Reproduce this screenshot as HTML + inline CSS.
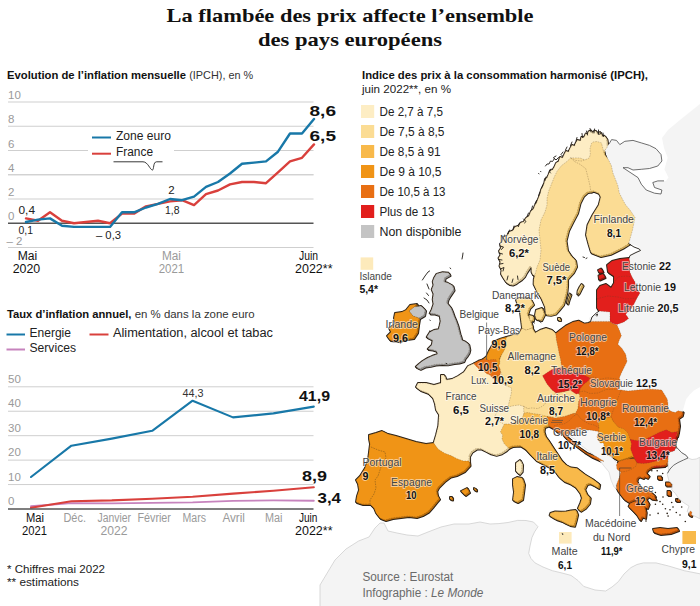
<!DOCTYPE html>
<html lang="fr"><head><meta charset="utf-8"><title>La flambée des prix affecte l’ensemble des pays européens</title>
<style>html,body{margin:0;padding:0;background:#fff}svg{display:block}</style></head>
<body><svg width="700" height="606" viewBox="0 0 700 606" font-family="'Liberation Sans', sans-serif">
<rect width="700" height="606" fill="#fff"/>
<g id="map" stroke-linejoin="round">
<g fill="none" stroke="#2a2016" stroke-width="1.9">
<polygon points="608.1,145.1 608.1,144.0 607.5,139.7 605.4,136.8 603.1,137.6 601.1,133.1 598.6,135.6 597.1,132.1 595.4,131.8 593.6,134.6 592.1,131.6 589.7,132.5 588.6,135.6 586.8,134.7 585.1,138.6 582.5,138.1 581.6,142.1 578.6,141.1 576.8,144.0 575.6,147.1 573.1,146.1 571.1,149.7 569.6,153.1 567.1,152.1 565.4,155.4 563.6,159.1 561.1,158.1 559.7,162.5 557.1,164.1 555.4,168.1 553.6,171.1 551.1,171.6 549.7,175.4 548.1,179.1 546.1,180.1 545.4,184.0 543.6,188.1 542.1,191.1 541.1,195.4 539.1,200.1 537.6,204.1 536.1,206.1 534.6,210.1 532.1,212.1 530.1,217.1 527.1,219.1 524.6,223.1 522.1,223.6 519.1,227.1 516.1,228.1 514.1,231.6 510.1,233.1 508.1,237.1 504.6,238.1 503.1,243.1 501.1,245.1 502.1,249.1 500.1,252.1 501.6,256.1 499.6,259.1 501.6,263.1 500.6,267.1 502.6,271.1 502.1,275.1 504.1,278.6 507.1,283.1 510.1,285.1 513.1,285.6 516.6,284.1 519.1,282.1 522.1,280.1 525.1,277.1 527.1,273.1 529.1,270.1 531.1,267.1 532.6,268.6 532.6,273.1 534.1,276.1 536.1,276.1 547.1,263.1 551.1,231.1 557.1,201.1 567.1,179.1 583.1,171.1 597.1,159.1 608.1,149.1"/><polygon points="607.0,144.0 607.0,142.9 606.4,138.6 604.3,135.7 602.0,136.5 600.0,132.0 597.5,134.5 596.0,131.0 594.3,130.7 592.5,133.5 591.0,130.5 588.6,131.4 587.5,134.5 585.7,133.6 584.0,137.5 581.4,137.0 580.5,141.0 577.5,140.0 575.7,142.9 574.5,146.0 572.0,145.0 570.0,148.6 568.5,152.0 566.0,151.0 564.3,154.3 562.5,158.0 560.0,157.0 558.6,161.4 556.0,163.0 554.3,167.0 552.5,170.0 550.0,170.5 548.6,174.3 547.0,178.0 545.0,179.0 544.3,182.9 542.5,187.0 541.0,190.0 540.0,194.3 538.0,199.0 536.5,203.0 535.0,205.0 533.5,209.0 531.0,211.0 529.0,216.0 526.0,218.0 523.5,222.0 521.0,222.5 518.0,226.0 515.0,227.0 513.0,230.5 509.0,232.0 507.0,236.0 503.5,237.0 502.0,242.0 500.0,244.0 501.0,248.0 499.0,251.0 500.5,255.0 498.5,258.0 500.5,262.0 499.5,266.0 501.5,270.0 501.0,274.0 503.0,277.5 506.0,282.0 509.0,284.0 512.0,284.5 515.5,283.0 518.0,281.0 521.0,279.0 524.0,276.0 526.0,272.0 528.0,269.0 530.0,266.0 531.5,267.5 531.5,272.0 533.0,275.0 535.0,275.0 546.0,262.0 550.0,230.0 556.0,200.0 566.0,178.0 582.0,170.0 596.0,158.0 607.0,148.0"/>
<polygon points="571.8,159.0 568.1,162.5 562.5,166.8 558.1,172.5 555.4,178.1 552.5,185.4 549.7,192.5 548.1,199.7 548.1,206.1 546.1,213.1 542.1,221.1 540.1,231.1 541.1,241.1 542.1,251.1 541.1,261.1 538.1,268.1 536.1,276.1 534.9,280.1 534.7,285.4 538.1,292.5 542.5,299.7 546.1,308.1 546.8,315.4 551.1,315.9 556.1,314.7 560.1,310.1 564.0,305.4 566.1,298.1 567.5,292.5 568.1,286.1 568.1,279.7 574.1,273.1 577.1,267.1 576.1,261.1 572.1,257.1 568.1,251.1 566.6,241.1 569.1,231.1 573.1,223.1 578.1,213.6 580.6,203.6 584.0,196.8 588.1,193.1 591.8,192.5 599.1,181.1 591.1,163.1 581.1,159.1"/><polygon points="570.7,157.9 567.0,161.4 561.4,165.7 557.0,171.4 554.3,177.0 551.4,184.3 548.6,191.4 547.0,198.6 547.0,205.0 545.0,212.0 541.0,220.0 539.0,230.0 540.0,240.0 541.0,250.0 540.0,260.0 537.0,267.0 535.0,275.0 533.8,279.0 533.6,284.3 537.0,291.4 541.4,298.6 545.0,307.0 545.7,314.3 550.0,314.8 555.0,313.6 559.0,309.0 562.9,304.3 565.0,297.0 566.4,291.4 567.0,285.0 567.0,278.6 573.0,272.0 576.0,266.0 575.0,260.0 571.0,256.0 567.0,250.0 565.5,240.0 568.0,230.0 572.0,222.0 577.0,212.5 579.5,202.5 582.9,195.7 587.0,192.0 590.7,191.4 598.0,180.0 590.0,162.0 580.0,158.0"/>
<polygon points="571.8,159.0 576.8,161.5 582.5,162.1 586.8,160.7 590.4,159.0 591.4,155.4 591.1,149.7 592.5,144.7 594.0,143.1 598.1,142.6 602.5,144.0 604.0,149.7 605.4,155.4 609.7,161.1 612.5,166.8 614.0,174.0 616.8,181.1 619.0,186.8 620.4,194.0 624.0,201.1 626.8,206.1 631.1,211.1 636.1,218.6 633.6,231.1 629.8,244.8 623.6,248.6 611.1,254.8 601.1,257.1 592.1,253.6 589.8,246.1 587.1,236.1 588.6,226.1 593.6,216.1 599.8,206.1 601.8,198.1 599.7,194.0 594.0,191.8 591.8,192.5 591.1,186.8 589.0,178.1 586.8,169.7 581.1,165.4 575.4,162.5"/><polygon points="570.7,157.9 575.7,160.4 581.4,161.0 585.7,159.6 589.3,157.9 590.3,154.3 590.0,148.6 591.4,143.6 592.9,142.0 597.0,141.5 601.4,142.9 602.9,148.6 604.3,154.3 608.6,160.0 611.4,165.7 612.9,172.9 615.7,180.0 617.9,185.7 619.3,192.9 622.9,200.0 625.7,205.0 630.0,210.0 635.0,217.5 632.5,230.0 628.7,243.7 622.5,247.5 610.0,253.7 600.0,256.0 591.0,252.5 588.7,245.0 586.0,235.0 587.5,225.0 592.5,215.0 598.7,205.0 600.7,197.0 598.6,192.9 592.9,190.7 590.7,191.4 590.0,185.7 587.9,177.0 585.7,168.6 580.0,164.3 574.3,161.4"/>
<polygon points="582.6,285.1 583.7,286.1 581.6,290.1 579.9,293.6 578.4,295.4 578.7,292.1 580.6,288.1"/><polygon points="581.5,284.0 582.6,285.0 580.5,289.0 578.8,292.5 577.3,294.3 577.6,291.0 579.5,287.0"/>
<polygon points="570.7,294.7 571.5,295.1 569.7,300.1 568.5,304.6 567.9,304.4 569.1,299.1"/><polygon points="569.6,293.6 570.4,294.0 568.6,299.0 567.4,303.5 566.8,303.3 568.0,298.0"/>
<polygon points="437.7,274.9 435.1,279.1 433.8,282.8 434.6,286.1 432.8,290.7 434.6,295.1 433.8,300.6 434.6,305.1 432.8,310.5 430.8,314.5 435.1,314.6 440.7,316.4 441.7,322.4 440.6,327.1 439.7,330.3 435.1,331.1 430.8,333.3 427.8,338.2 433.8,341.2 432.8,346.1 428.8,350.1 433.1,350.6 437.7,352.1 438.7,355.1 433.1,357.1 428.8,359.0 423.6,362.1 419.9,365.0 416.9,367.9 420.9,369.9 425.6,367.6 430.8,366.9 436.1,365.6 442.7,365.0 448.1,365.4 454.6,364.0 459.6,363.6 464.5,362.0 465.6,359.1 467.4,357.0 469.6,353.6 470.4,350.1 469.4,345.2 466.1,342.6 462.5,341.2 461.6,337.6 460.5,334.3 458.5,326.3 456.6,321.1 454.6,316.4 453.1,312.1 451.6,308.5 449.1,305.6 447.6,303.6 448.6,300.1 450.6,296.6 454.6,290.7 453.6,286.7 448.6,283.8 444.7,282.8 445.7,278.8 450.6,275.9 449.6,273.9 443.7,273.3"/><polygon points="436.6,273.8 434.0,278.0 432.7,281.7 433.5,285.0 431.7,289.6 433.5,294.0 432.7,299.5 433.5,304.0 431.7,309.4 429.7,313.4 434.0,313.5 439.6,315.3 440.6,321.3 439.5,326.0 438.6,329.2 434.0,330.0 429.7,332.2 426.7,337.1 432.7,340.1 431.7,345.0 427.7,349.0 432.0,349.5 436.6,351.0 437.6,354.0 432.0,356.0 427.7,357.9 422.5,361.0 418.8,363.9 415.8,366.8 419.8,368.8 424.5,366.5 429.7,365.8 435.0,364.5 441.6,363.9 447.0,364.3 453.5,362.9 458.5,362.5 463.4,360.9 464.5,358.0 466.3,355.9 468.5,352.5 469.3,349.0 468.3,344.1 465.0,341.5 461.4,340.1 460.5,336.5 459.4,333.2 457.4,325.2 455.5,320.0 453.5,315.3 452.0,311.0 450.5,307.4 448.0,304.5 446.5,302.5 447.5,299.0 449.5,295.5 453.5,289.6 452.5,285.6 447.5,282.7 443.6,281.7 444.6,277.7 449.5,274.8 448.5,272.8 442.6,272.2"/>
<polygon points="410.1,312.1 415.1,308.1 422.1,307.1 426.1,311.1 425.1,316.1 420.1,319.1 414.1,317.1"/><polygon points="409.0,311.0 414.0,307.0 421.0,306.0 425.0,310.0 424.0,315.0 419.0,318.0 413.0,316.0"/>
<polygon points="407.1,311.1 411.1,306.1 418.1,305.1 415.1,308.1 410.1,312.1 414.1,317.1 420.1,319.1 419.1,325.1 418.1,333.1 414.1,339.1 407.1,340.1 399.1,342.1 391.1,341.1 388.1,337.1 392.1,333.1 390.1,329.1 396.1,325.1 395.1,319.1 396.1,314.1 403.1,313.1"/><polygon points="406.0,310.0 410.0,305.0 417.0,304.0 414.0,307.0 409.0,311.0 413.0,316.0 419.0,318.0 418.0,324.0 417.0,332.0 413.0,338.0 406.0,339.0 398.0,341.0 390.0,340.0 387.0,336.0 391.0,332.0 389.0,328.0 395.0,324.0 394.0,318.0 395.0,313.0 402.0,312.0"/>
<polygon points="507.5,338.1 511.1,337.1 515.1,335.6 519.1,336.1 521.1,333.1 523.1,329.1 527.1,331.1 533.1,329.1 536.1,334.1 541.1,331.1 547.1,329.1 553.1,331.1 556.8,334.7 563.1,339.1 569.1,373.1 563.1,397.1 557.1,403.1 549.1,407.1 539.1,413.1 523.1,413.1 511.1,412.1 505.1,403.1 506.1,393.1 499.1,387.1 497.1,375.1 499.1,365.1 502.1,357.1 504.1,348.1 505.1,341.1"/><polygon points="506.4,337.0 510.0,336.0 514.0,334.5 518.0,335.0 520.0,332.0 522.0,328.0 526.0,330.0 532.0,328.0 535.0,333.0 540.0,330.0 546.0,328.0 552.0,330.0 555.7,333.6 562.0,338.0 568.0,372.0 562.0,396.0 556.0,402.0 548.0,406.0 538.0,412.0 522.0,412.0 510.0,411.0 504.0,402.0 505.0,392.0 498.0,386.0 496.0,374.0 498.0,364.0 501.0,356.0 503.0,347.0 504.0,340.0"/>
<polygon points="474.7,364.7 469.1,367.1 465.1,373.1 459.1,377.1 453.1,380.1 447.1,381.1 445.1,376.1 442.1,376.1 442.1,384.1 435.1,386.1 427.1,384.1 419.1,384.1 417.1,388.1 421.1,391.1 429.1,394.1 434.1,399.1 436.1,405.1 437.1,411.1 440.1,415.8 439.4,426.8 437.1,436.1 434.7,444.1 441.1,457.1 456.1,465.1 470.1,462.1 470.1,456.7 472.4,452.7 477.1,449.6 481.8,449.6 486.5,452.0 491.1,454.3 496.7,455.9 502.1,454.3 507.0,451.1 509.3,448.8 513.1,441.1 513.1,426.1 519.1,416.1 517.1,409.1 509.0,408.1 509.7,405.4 511.1,399.7 512.5,394.0 512.5,389.0 509.0,387.5 501.8,384.0 504.1,379.1 501.1,371.1 493.1,367.1 483.1,362.1"/><polygon points="473.6,363.6 468.0,366.0 464.0,372.0 458.0,376.0 452.0,379.0 446.0,380.0 444.0,375.0 441.0,375.0 441.0,383.0 434.0,385.0 426.0,383.0 418.0,383.0 416.0,387.0 420.0,390.0 428.0,393.0 433.0,398.0 435.0,404.0 436.0,410.0 439.0,414.7 438.3,425.7 436.0,435.0 433.6,443.0 440.0,456.0 455.0,464.0 469.0,461.0 469.0,455.6 471.3,451.6 476.0,448.5 480.7,448.5 485.4,450.9 490.0,453.2 495.6,454.8 501.0,453.2 505.9,450.0 508.2,447.7 512.0,440.0 512.0,425.0 518.0,415.0 516.0,408.0 507.9,407.0 508.6,404.3 510.0,398.6 511.4,392.9 511.4,387.9 507.9,386.4 500.7,382.9 503.0,378.0 500.0,370.0 492.0,366.0 482.0,361.0"/>
<polygon points="517.1,464.1 521.1,461.1 523.1,465.1 522.7,472.1 520.1,475.1 517.1,472.1"/><polygon points="516.0,463.0 520.0,460.0 522.0,464.0 521.6,471.0 519.0,474.0 516.0,471.0"/>
<polygon points="370.1,436.1 377.1,434.1 383.1,432.1 389.1,435.1 397.1,437.1 407.1,440.1 417.1,443.1 427.1,445.1 434.7,444.1 439.4,450.4 445.7,454.3 452.0,456.7 458.1,459.8 464.5,462.1 470.1,462.1 470.6,466.1 465.1,472.1 457.1,476.1 451.1,477.6 445.1,482.1 439.1,488.1 437.3,491.6 438.1,496.1 440.1,499.6 437.1,503.1 433.1,508.1 429.1,512.6 423.1,516.1 417.1,518.1 409.1,517.1 401.1,518.1 393.1,519.1 386.1,521.1 381.1,519.1 377.1,514.1 375.1,509.1 371.1,505.1 363.1,505.1 357.1,503.1 358.1,497.1 360.1,491.1 359.1,485.1 357.1,481.1 361.1,477.1 366.1,469.1 369.1,461.1 370.1,453.1 371.1,445.1 370.1,440.1"/><polygon points="369.0,435.0 376.0,433.0 382.0,431.0 388.0,434.0 396.0,436.0 406.0,439.0 416.0,442.0 426.0,444.0 433.6,443.0 438.3,449.3 444.6,453.2 450.9,455.6 457.0,458.7 463.4,461.0 469.0,461.0 469.5,465.0 464.0,471.0 456.0,475.0 450.0,476.5 444.0,481.0 438.0,487.0 436.2,490.5 437.0,495.0 439.0,498.5 436.0,502.0 432.0,507.0 428.0,511.5 422.0,515.0 416.0,517.0 408.0,516.0 400.0,517.0 392.0,518.0 385.0,520.0 380.0,518.0 376.0,513.0 374.0,508.0 370.0,504.0 362.0,504.0 356.0,502.0 357.0,496.0 359.0,490.0 358.0,484.0 356.0,480.0 360.0,476.0 365.0,468.0 368.0,460.0 369.0,452.0 370.0,444.0 369.0,439.0"/>
<polygon points="462.1,492.1 468.1,489.1 470.1,493.1 466.1,496.1"/><polygon points="461.0,491.0 467.0,488.0 469.0,492.0 465.0,495.0"/>
<polygon points="475.1,489.1 477.1,490.1 477.1,491.6 475.1,490.6"/><polygon points="474.0,488.0 476.0,489.0 476.0,490.5 474.0,489.5"/>
<polygon points="451.1,498.1 453.1,498.1 453.1,500.6 451.1,500.1"/><polygon points="450.0,497.0 452.0,497.0 452.0,499.5 450.0,499.0"/>
<polygon points="517.1,301.1 520.1,299.1 525.1,299.6 530.1,299.1 532.1,301.1 534.1,305.1 530.1,309.1 528.1,315.1 531.1,321.1 533.1,327.1 533.1,329.1 527.1,331.1 523.1,329.1 522.1,321.1 521.1,313.1 519.1,307.1"/><polygon points="516.0,300.0 519.0,298.0 524.0,298.5 529.0,298.0 531.0,300.0 533.0,304.0 529.0,308.0 527.0,314.0 530.0,320.0 532.0,326.0 532.0,328.0 526.0,330.0 522.0,328.0 521.0,320.0 520.0,312.0 518.0,306.0"/>
<polygon points="537.1,311.1 543.1,309.1 545.1,315.1 542.1,321.1 537.1,320.1 536.1,316.1"/><polygon points="536.0,310.0 542.0,308.0 544.0,314.0 541.0,320.0 536.0,319.0 535.0,315.0"/>
<polygon points="530.1,316.1 534.1,317.1 534.1,321.1 531.1,322.1"/><polygon points="529.0,315.0 533.0,316.0 533.0,320.0 530.0,321.0"/>
<polygon points="559.1,319.1 561.1,319.1 561.1,321.1 559.1,321.1"/><polygon points="558.0,318.0 560.0,318.0 560.0,320.0 558.0,320.0"/>
<polygon points="484.0,360.4 487.5,357.5 489.7,352.5 492.5,347.5 496.8,341.8 501.8,339.7 507.5,338.1 506.8,342.5 507.5,346.8 504.7,352.5 502.5,356.1 500.4,359.7 501.1,364.0 499.7,367.1 497.1,367.1 491.1,365.1 486.1,363.1"/><polygon points="482.9,359.3 486.4,356.4 488.6,351.4 491.4,346.4 495.7,340.7 500.7,338.6 506.4,337.0 505.7,341.4 506.4,345.7 503.6,351.4 501.4,355.0 499.3,358.6 500.0,362.9 498.6,366.0 496.0,366.0 490.0,364.0 485.0,362.0"/>
<polygon points="474.7,364.7 479.7,361.8 484.0,360.4 487.5,359.7 489.7,361.4 493.1,360.7 496.8,360.7 498.1,363.5 499.7,367.1 501.1,369.7 501.8,374.0 500.4,377.5 501.1,381.1 496.8,380.4 494.0,379.7 491.1,376.1 487.5,374.7 484.7,371.8 480.4,370.4 477.5,367.5"/><polygon points="473.6,363.6 478.6,360.7 482.9,359.3 486.4,358.6 488.6,360.3 492.0,359.6 495.7,359.6 497.0,362.4 498.6,366.0 500.0,368.6 500.7,372.9 499.3,376.4 500.0,380.0 495.7,379.3 492.9,378.6 490.0,375.0 486.4,373.6 483.6,370.7 479.3,369.3 476.4,366.4"/>
<polygon points="498.1,376.8 501.1,377.5 501.8,381.1 499.7,384.0 497.5,381.8"/><polygon points="497.0,375.7 500.0,376.4 500.7,380.0 498.6,382.9 496.4,380.7"/>
<polygon points="495.1,419.1 498.1,413.1 503.1,410.1 509.0,408.1 514.7,406.8 520.4,406.1 524.7,407.5 531.1,411.1 531.1,421.1 521.1,425.1 509.1,427.1 501.1,423.1"/><polygon points="494.0,418.0 497.0,412.0 502.0,409.0 507.9,407.0 513.6,405.7 519.3,405.0 523.6,406.4 530.0,410.0 530.0,420.0 520.0,424.0 508.0,426.0 500.0,422.0"/>
<polygon points="524.7,407.5 529.0,409.7 533.1,409.0 539.0,409.7 543.1,407.5 546.1,405.4 546.8,402.5 550.4,401.1 554.7,396.1 557.1,394.1 563.1,393.1 571.1,391.1 577.1,390.1 585.1,393.1 585.1,406.1 581.1,417.1 573.1,423.1 557.1,423.1 541.1,421.1 525.1,417.1"/><polygon points="523.6,406.4 527.9,408.6 532.0,407.9 537.9,408.6 542.0,406.4 545.0,404.3 545.7,401.4 549.3,400.0 553.6,395.0 556.0,393.0 562.0,392.0 570.0,390.0 576.0,389.0 584.0,392.0 584.0,405.0 580.0,416.0 572.0,422.0 556.0,422.0 540.0,420.0 524.0,416.0"/>
<polygon points="509.3,448.8 505.4,444.9 503.1,440.1 503.8,436.1 501.5,433.1 503.8,428.4 505.4,425.1 509.1,425.1 513.1,425.1 517.1,422.1 521.1,420.1 524.1,417.6 525.1,414.1 529.1,413.6 533.1,414.6 539.7,415.4 548.1,417.5 553.1,418.6 557.1,422.1 555.1,427.1 549.1,426.6 545.1,428.1 544.6,432.1 546.1,437.1 549.1,441.1 554.7,449.7 558.6,455.6 562.5,461.5 567.1,466.1 572.0,468.6 578.1,469.4 582.1,472.6 586.1,475.7 594.0,480.4 600.2,485.1 599.5,489.1 595.5,486.7 590.8,484.3 587.7,485.1 585.3,489.8 587.7,495.3 590.8,498.5 590.0,504.0 586.1,508.7 581.4,511.8 579.0,509.5 581.4,504.0 583.0,499.2 581.4,494.5 576.7,488.2 570.4,484.3 564.9,482.0 560.2,478.0 556.2,472.5 550.0,467.8 543.7,464.7 537.4,461.5 531.1,455.1 526.6,450.1 521.1,446.6 513.1,447.1"/><polygon points="508.2,447.7 504.3,443.8 502.0,439.0 502.7,435.0 500.4,432.0 502.7,427.3 504.3,424.0 508.0,424.0 512.0,424.0 516.0,421.0 520.0,419.0 523.0,416.5 524.0,413.0 528.0,412.5 532.0,413.5 538.6,414.3 547.0,416.4 552.0,417.5 556.0,421.0 554.0,426.0 548.0,425.5 544.0,427.0 543.5,431.0 545.0,436.0 548.0,440.0 553.6,448.6 557.5,454.5 561.4,460.4 566.0,465.0 570.9,467.5 577.0,468.3 581.0,471.5 585.0,474.6 592.9,479.3 599.1,484.0 598.4,488.0 594.4,485.6 589.7,483.2 586.6,484.0 584.2,488.7 586.6,494.2 589.7,497.4 588.9,502.9 585.0,507.6 580.3,510.7 577.9,508.4 580.3,502.9 581.9,498.1 580.3,493.4 575.6,487.1 569.3,483.2 563.8,480.9 559.1,476.9 555.1,471.4 548.9,466.7 542.6,463.6 536.3,460.4 530.0,454.0 525.5,449.0 520.0,445.5 512.0,446.0"/>
<polygon points="551.5,514.1 556.2,512.6 562.1,512.9 567.2,512.6 572.1,511.6 576.7,511.1 578.2,515.0 576.7,521.2 575.1,526.7 570.4,526.0 566.1,523.9 562.5,522.0 558.1,520.6 554.7,518.9 550.7,516.5"/><polygon points="550.4,513.0 555.1,511.5 561.0,511.8 566.1,511.5 571.0,510.5 575.6,510.0 577.1,513.9 575.6,520.1 574.0,525.6 569.3,524.9 565.0,522.8 561.4,520.9 557.0,519.5 553.6,517.8 549.6,515.4"/>
<polygon points="514.1,480.1 518.1,478.1 523.1,479.1 525.1,485.1 524.1,493.1 523.1,500.1 518.1,503.1 514.1,501.1 515.1,493.1 514.1,486.1"/><polygon points="513.0,479.0 517.0,477.0 522.0,478.0 524.0,484.0 523.0,492.0 522.0,499.0 517.0,502.0 513.0,500.0 514.0,492.0 513.0,485.0"/>
<polygon points="556.8,334.7 561.1,331.1 566.8,326.8 574.0,323.1 579.7,321.8 585.4,324.7 589.7,324.0 592.5,322.5 601.1,322.5 611.1,322.5 614.0,324.7 618.1,326.1 620.4,331.1 622.5,336.8 620.4,341.1 619.0,345.4 623.1,349.7 626.8,355.4 628.1,362.5 625.4,368.1 622.5,374.0 620.4,379.0 621.1,381.1 616.1,387.1 591.1,387.1 561.1,377.1 562.5,366.8 561.8,361.1 560.4,355.4 559.0,348.1 557.5,341.1"/><polygon points="555.7,333.6 560.0,330.0 565.7,325.7 572.9,322.0 578.6,320.7 584.3,323.6 588.6,322.9 591.4,321.4 600.0,321.4 610.0,321.4 612.9,323.6 617.0,325.0 619.3,330.0 621.4,335.7 619.3,340.0 617.9,344.3 622.0,348.6 625.7,354.3 627.0,361.4 624.3,367.0 621.4,372.9 619.3,377.9 620.0,380.0 615.0,386.0 590.0,386.0 560.0,376.0 561.4,365.7 560.7,360.0 559.3,354.3 557.9,347.0 556.4,340.0"/>
<polygon points="543.6,376.9 549.1,373.1 553.1,370.7 557.1,369.3 561.1,368.7 567.1,371.1 573.1,374.1 579.1,373.1 585.1,376.1 591.1,379.1 595.1,383.1 593.1,393.1 577.1,395.1 571.1,391.1 563.1,393.1 557.1,394.1 553.1,391.1 548.1,385.1"/><polygon points="542.5,375.8 548.0,372.0 552.0,369.6 556.0,368.2 560.0,367.6 566.0,370.0 572.0,373.0 578.0,372.0 584.0,375.0 590.0,378.0 594.0,382.0 592.0,392.0 576.0,394.0 570.0,390.0 562.0,392.0 556.0,393.0 552.0,390.0 547.0,384.0"/>
<polygon points="591.1,379.1 595.4,378.1 601.1,380.4 608.1,379.0 615.4,379.7 621.1,381.1 621.6,386.1 619.1,391.1 613.1,397.1 597.1,399.1 585.1,396.1 580.1,393.1 581.6,389.1 585.1,385.1 589.1,382.1"/><polygon points="590.0,378.0 594.3,377.0 600.0,379.3 607.0,377.9 614.3,378.6 620.0,380.0 620.5,385.0 618.0,390.0 612.0,396.0 596.0,398.0 584.0,395.0 579.0,392.0 580.5,388.0 584.0,384.0 588.0,381.0"/>
<polygon points="580.1,393.1 585.1,392.1 591.1,394.6 599.1,394.1 607.1,390.6 615.1,390.1 622.1,391.1 627.1,397.1 623.1,421.1 607.1,429.1 587.1,429.1 573.1,425.1 575.1,417.1 579.0,409.7 579.7,402.5 581.1,399.7"/><polygon points="579.0,392.0 584.0,391.0 590.0,393.5 598.0,393.0 606.0,389.5 614.0,389.0 621.0,390.0 626.0,396.0 622.0,420.0 606.0,428.0 586.0,428.0 572.0,424.0 574.0,416.0 577.9,408.6 578.6,401.4 580.0,398.6"/>
<polygon points="622.1,391.1 629.1,392.1 639.1,391.1 649.1,390.1 657.1,390.6 662.8,391.1 665.6,395.6 668.3,400.1 669.1,405.1 669.1,410.1 672.6,412.6 676.4,413.7 679.1,411.9 683.7,412.8 682.8,416.4 679.1,419.1 680.1,426.4 679.1,432.7 678.1,437.1 665.1,441.1 641.1,445.1 627.1,441.1 619.1,433.1 614.1,422.1 612.1,417.6 615.1,409.1 619.1,399.1"/><polygon points="621.0,390.0 628.0,391.0 638.0,390.0 648.0,389.0 656.0,389.5 661.7,390.0 664.5,394.5 667.2,399.0 668.0,404.0 668.0,409.0 671.5,411.5 675.3,412.6 678.0,410.8 682.6,411.7 681.7,415.3 678.0,418.0 679.0,425.3 678.0,431.6 677.0,436.0 664.0,440.0 640.0,444.0 626.0,440.0 618.0,432.0 613.0,421.0 611.0,416.5 614.0,408.0 618.0,398.0"/>
<polygon points="548.1,417.5 556.8,419.0 565.4,417.5 574.0,414.7 576.1,414.1 575.1,419.1 573.1,425.1 567.1,431.1 557.1,431.1 550.1,427.1 548.1,422.1"/><polygon points="547.0,416.4 555.7,417.9 564.3,416.4 572.9,413.6 575.0,413.0 574.0,418.0 572.0,424.0 566.0,430.0 556.0,430.0 549.0,426.0 547.0,421.0"/>
<polygon points="555.1,427.1 559.1,425.6 565.1,425.1 570.1,422.1 574.1,417.6 578.1,415.1 582.1,420.1 589.1,424.6 595.1,426.1 600.1,428.6 605.1,433.1 599.7,432.5 591.1,431.1 578.1,430.4 571.1,431.6 566.8,436.8 572.1,441.1 579.7,448.1 588.1,454.0 598.1,458.1 605.4,462.5 601.1,461.6 593.1,458.1 585.1,453.1 577.1,447.1 570.1,442.1 565.1,437.1 562.1,432.1 559.1,433.6 556.1,431.1"/><polygon points="554.0,426.0 558.0,424.5 564.0,424.0 569.0,421.0 573.0,416.5 577.0,414.0 581.0,419.0 588.0,423.5 594.0,425.0 599.0,427.5 604.0,432.0 598.6,431.4 590.0,430.0 577.0,429.3 570.0,430.5 565.7,435.7 571.0,440.0 578.6,447.0 587.0,452.9 597.0,457.0 604.3,461.4 600.0,460.5 592.0,457.0 584.0,452.0 576.0,446.0 569.0,441.0 564.0,436.0 561.0,431.0 558.0,432.5 555.0,430.0"/>
<polygon points="599.7,432.5 600.1,428.6 599.1,423.1 603.1,420.1 612.1,418.1 614.1,422.1 619.1,428.1 625.1,430.1 629.1,434.1 631.1,440.4 639.1,447.1 639.1,459.1 632.5,457.5 626.8,459.7 619.7,461.8 612.5,457.5 608.1,456.1 605.4,450.4 604.7,444.0 601.1,444.0 598.1,438.1"/><polygon points="598.6,431.4 599.0,427.5 598.0,422.0 602.0,419.0 611.0,417.0 613.0,421.0 618.0,427.0 624.0,429.0 628.0,433.0 630.0,439.3 638.0,446.0 638.0,458.0 631.4,456.4 625.7,458.6 618.6,460.7 611.4,456.4 607.0,455.0 604.3,449.3 603.6,442.9 600.0,442.9 597.0,437.0"/>
<polygon points="631.1,440.4 638.4,441.8 645.6,440.9 652.9,437.3 660.1,433.6 667.4,430.9 672.8,433.6 679.1,432.7 678.3,433.6 676.4,440.9 675.5,446.3 676.8,449.0 675.4,451.8 671.1,453.1 668.1,456.1 669.0,459.0 665.1,467.1 641.1,469.1 635.4,459.7 634.0,456.1 631.8,450.4 632.5,444.7"/><polygon points="630.0,439.3 637.3,440.7 644.5,439.8 651.8,436.2 659.0,432.5 666.3,429.8 671.7,432.5 678.0,431.6 677.2,432.5 675.3,439.8 674.4,445.2 675.7,447.9 674.3,450.7 670.0,452.0 667.0,455.0 667.9,457.9 664.0,466.0 640.0,468.0 634.3,458.6 632.9,455.0 630.7,449.3 631.4,443.6"/>
<polygon points="617.5,466.1 619.7,462.5 626.8,460.4 634.0,459.7 635.4,459.7 638.1,464.0 641.1,471.1 631.1,477.1 621.8,473.1 618.1,470.4"/><polygon points="616.4,465.0 618.6,461.4 625.7,459.3 632.9,458.6 634.3,458.6 637.0,462.9 640.0,470.0 630.0,476.0 620.7,472.0 617.0,469.3"/>
<polygon points="621.8,473.1 626.8,472.5 632.5,470.4 636.8,467.5 638.1,464.0 644.0,464.7 649.7,464.0 655.4,462.5 661.1,461.1 665.4,460.4 669.0,459.0 669.0,462.5 666.8,466.1 662.5,466.8 656.8,466.8 652.5,468.1 648.1,471.1 646.8,474.0 649.7,476.8 648.1,479.0 645.4,477.5 644.0,479.0 640.4,477.5 638.1,479.0 637.5,481.8 639.7,486.1 644.0,490.4 648.1,493.1 654.0,496.1 656.8,500.4 652.5,499.7 649.7,497.5 646.8,499.7 649.7,504.7 648.1,509.0 645.4,507.5 646.8,513.1 646.1,519.0 643.1,517.5 641.1,521.1 638.1,516.1 634.0,511.8 629.7,507.5 631.1,504.7 635.4,502.5 641.1,501.8 635.1,500.6 629.7,503.1 625.4,500.4 623.1,497.5 619.7,493.1 617.5,489.0 618.1,484.7 619.7,480.4 621.1,476.1"/><polygon points="620.7,472.0 625.7,471.4 631.4,469.3 635.7,466.4 637.0,462.9 642.9,463.6 648.6,462.9 654.3,461.4 660.0,460.0 664.3,459.3 667.9,457.9 667.9,461.4 665.7,465.0 661.4,465.7 655.7,465.7 651.4,467.0 647.0,470.0 645.7,472.9 648.6,475.7 647.0,477.9 644.3,476.4 642.9,477.9 639.3,476.4 637.0,477.9 636.4,480.7 638.6,485.0 642.9,489.3 647.0,492.0 652.9,495.0 655.7,499.3 651.4,498.6 648.6,496.4 645.7,498.6 648.6,503.6 647.0,507.9 644.3,506.4 645.7,512.0 645.0,517.9 642.0,516.4 640.0,520.0 637.0,515.0 632.9,510.7 628.6,506.4 630.0,503.6 634.3,501.4 640.0,500.7 634.0,499.5 628.6,502.0 624.3,499.3 622.0,496.4 618.6,492.0 616.4,487.9 617.0,483.6 618.6,479.3 620.0,475.0"/>
<polygon points="654.1,530.1 661.1,529.1 669.1,530.1 678.1,529.1 679.1,531.1 671.1,534.1 661.1,535.1 655.1,533.1"/><polygon points="653.0,529.0 660.0,528.0 668.0,529.0 677.0,528.0 678.0,530.0 670.0,533.0 660.0,534.0 654.0,532.0"/>
<polygon points="647.1,491.1 652.1,493.6 656.1,497.1 654.1,498.1 649.1,495.1"/><polygon points="646.0,490.0 651.0,492.5 655.0,496.0 653.0,497.0 648.0,494.0"/>
<polygon points="659.1,477.6 662.1,477.6 662.1,480.1 659.1,480.1"/><polygon points="658.0,476.5 661.0,476.5 661.0,479.0 658.0,479.0"/>
<polygon points="667.1,483.6 671.6,483.6 672.1,486.6 667.1,486.6"/><polygon points="666.0,482.5 670.5,482.5 671.0,485.5 666.0,485.5"/>
<polygon points="668.6,492.1 671.1,492.1 671.1,496.1 668.6,496.1"/><polygon points="667.5,491.0 670.0,491.0 670.0,495.0 667.5,495.0"/>
<polygon points="677.1,500.1 680.1,500.1 680.1,502.1 677.1,502.1"/><polygon points="676.0,499.0 679.0,499.0 679.0,501.0 676.0,501.0"/>
<polygon points="691.1,512.1 693.1,513.1 692.1,517.1 690.1,516.1"/><polygon points="690.0,511.0 692.0,512.0 691.0,516.0 689.0,515.0"/>
<polygon points="608.1,266.1 613.1,262.1 621.1,260.1 630.1,259.1 631.1,265.1 630.1,271.1 633.1,278.1 631.1,285.1 617.1,287.1 615.1,284.1 615.1,277.1 609.1,273.1"/><polygon points="607.0,265.0 612.0,261.0 620.0,259.0 629.0,258.0 630.0,264.0 629.0,270.0 632.0,277.0 630.0,284.0 616.0,286.0 614.0,283.0 614.0,276.0 608.0,272.0"/>
<polygon points="599.6,276.6 604.1,275.1 605.6,278.1 600.1,280.6"/><polygon points="598.5,275.5 603.0,274.0 604.5,277.0 599.0,279.5"/>
<polygon points="599.1,271.1 602.1,269.6 603.6,272.6 600.1,273.6"/><polygon points="598.0,270.0 601.0,268.5 602.5,271.5 599.0,272.5"/>
<polygon points="598.1,291.1 601.1,287.1 607.1,285.1 612.1,289.1 615.1,284.1 619.1,278.1 627.1,277.1 633.1,278.1 636.1,283.1 637.1,289.1 641.1,294.1 638.1,299.1 631.1,305.1 611.1,304.1 599.1,304.1 598.1,300.1"/><polygon points="597.0,290.0 600.0,286.0 606.0,284.0 611.0,288.0 614.0,283.0 618.0,277.0 626.0,276.0 632.0,277.0 635.0,282.0 636.0,288.0 640.0,293.0 637.0,298.0 630.0,304.0 610.0,303.0 598.0,303.0 597.0,299.0"/>
<polygon points="598.1,300.1 601.1,299.1 609.1,297.1 619.1,298.1 627.1,300.1 638.1,299.1 635.1,305.1 632.5,309.7 626.8,315.4 629.7,319.7 625.1,323.1 618.1,325.6 614.0,324.7 611.1,322.5 611.1,313.1 600.1,312.1 598.1,309.1"/><polygon points="597.0,299.0 600.0,298.0 608.0,296.0 618.0,297.0 626.0,299.0 637.0,298.0 634.0,304.0 631.4,308.6 625.7,314.3 628.6,318.6 624.0,322.0 617.0,324.5 612.9,323.6 610.0,321.4 610.0,312.0 599.0,311.0 597.0,308.0"/>
</g>
<g>
<polygon points="608.1,145.1 608.1,144.0 607.5,139.7 605.4,136.8 603.1,137.6 601.1,133.1 598.6,135.6 597.1,132.1 595.4,131.8 593.6,134.6 592.1,131.6 589.7,132.5 588.6,135.6 586.8,134.7 585.1,138.6 582.5,138.1 581.6,142.1 578.6,141.1 576.8,144.0 575.6,147.1 573.1,146.1 571.1,149.7 569.6,153.1 567.1,152.1 565.4,155.4 563.6,159.1 561.1,158.1 559.7,162.5 557.1,164.1 555.4,168.1 553.6,171.1 551.1,171.6 549.7,175.4 548.1,179.1 546.1,180.1 545.4,184.0 543.6,188.1 542.1,191.1 541.1,195.4 539.1,200.1 537.6,204.1 536.1,206.1 534.6,210.1 532.1,212.1 530.1,217.1 527.1,219.1 524.6,223.1 522.1,223.6 519.1,227.1 516.1,228.1 514.1,231.6 510.1,233.1 508.1,237.1 504.6,238.1 503.1,243.1 501.1,245.1 502.1,249.1 500.1,252.1 501.6,256.1 499.6,259.1 501.6,263.1 500.6,267.1 502.6,271.1 502.1,275.1 504.1,278.6 507.1,283.1 510.1,285.1 513.1,285.6 516.6,284.1 519.1,282.1 522.1,280.1 525.1,277.1 527.1,273.1 529.1,270.1 531.1,267.1 532.6,268.6 532.6,273.1 534.1,276.1 536.1,276.1 547.1,263.1 551.1,231.1 557.1,201.1 567.1,179.1 583.1,171.1 597.1,159.1 608.1,149.1" fill="#d9c493"/>
<polygon points="571.8,159.0 568.1,162.5 562.5,166.8 558.1,172.5 555.4,178.1 552.5,185.4 549.7,192.5 548.1,199.7 548.1,206.1 546.1,213.1 542.1,221.1 540.1,231.1 541.1,241.1 542.1,251.1 541.1,261.1 538.1,268.1 536.1,276.1 534.9,280.1 534.7,285.4 538.1,292.5 542.5,299.7 546.1,308.1 546.8,315.4 551.1,315.9 556.1,314.7 560.1,310.1 564.0,305.4 566.1,298.1 567.5,292.5 568.1,286.1 568.1,279.7 574.1,273.1 577.1,267.1 576.1,261.1 572.1,257.1 568.1,251.1 566.6,241.1 569.1,231.1 573.1,223.1 578.1,213.6 580.6,203.6 584.0,196.8 588.1,193.1 591.8,192.5 599.1,181.1 591.1,163.1 581.1,159.1" fill="#d4ac55"/>
<polygon points="571.8,159.0 576.8,161.5 582.5,162.1 586.8,160.7 590.4,159.0 591.4,155.4 591.1,149.7 592.5,144.7 594.0,143.1 598.1,142.6 602.5,144.0 604.0,149.7 605.4,155.4 609.7,161.1 612.5,166.8 614.0,174.0 616.8,181.1 619.0,186.8 620.4,194.0 624.0,201.1 626.8,206.1 631.1,211.1 636.1,218.6 633.6,231.1 629.8,244.8 623.6,248.6 611.1,254.8 601.1,257.1 592.1,253.6 589.8,246.1 587.1,236.1 588.6,226.1 593.6,216.1 599.8,206.1 601.8,198.1 599.7,194.0 594.0,191.8 591.8,192.5 591.1,186.8 589.0,178.1 586.8,169.7 581.1,165.4 575.4,162.5" fill="#d4ac55"/>
<polygon points="582.6,285.1 583.7,286.1 581.6,290.1 579.9,293.6 578.4,295.4 578.7,292.1 580.6,288.1" fill="#d4ac55"/>
<polygon points="570.7,294.7 571.5,295.1 569.7,300.1 568.5,304.6 567.9,304.4 569.1,299.1" fill="#d4ac55"/>
<polygon points="437.7,274.9 435.1,279.1 433.8,282.8 434.6,286.1 432.8,290.7 434.6,295.1 433.8,300.6 434.6,305.1 432.8,310.5 430.8,314.5 435.1,314.6 440.7,316.4 441.7,322.4 440.6,327.1 439.7,330.3 435.1,331.1 430.8,333.3 427.8,338.2 433.8,341.2 432.8,346.1 428.8,350.1 433.1,350.6 437.7,352.1 438.7,355.1 433.1,357.1 428.8,359.0 423.6,362.1 419.9,365.0 416.9,367.9 420.9,369.9 425.6,367.6 430.8,366.9 436.1,365.6 442.7,365.0 448.1,365.4 454.6,364.0 459.6,363.6 464.5,362.0 465.6,359.1 467.4,357.0 469.6,353.6 470.4,350.1 469.4,345.2 466.1,342.6 462.5,341.2 461.6,337.6 460.5,334.3 458.5,326.3 456.6,321.1 454.6,316.4 453.1,312.1 451.6,308.5 449.1,305.6 447.6,303.6 448.6,300.1 450.6,296.6 454.6,290.7 453.6,286.7 448.6,283.8 444.7,282.8 445.7,278.8 450.6,275.9 449.6,273.9 443.7,273.3" fill="#8e8e8e"/>
<polygon points="410.1,312.1 415.1,308.1 422.1,307.1 426.1,311.1 425.1,316.1 420.1,319.1 414.1,317.1" fill="#8e8e8e"/>
<polygon points="407.1,311.1 411.1,306.1 418.1,305.1 415.1,308.1 410.1,312.1 414.1,317.1 420.1,319.1 419.1,325.1 418.1,333.1 414.1,339.1 407.1,340.1 399.1,342.1 391.1,341.1 388.1,337.1 392.1,333.1 390.1,329.1 396.1,325.1 395.1,319.1 396.1,314.1 403.1,313.1" fill="#bd6d08"/>
<polygon points="507.5,338.1 511.1,337.1 515.1,335.6 519.1,336.1 521.1,333.1 523.1,329.1 527.1,331.1 533.1,329.1 536.1,334.1 541.1,331.1 547.1,329.1 553.1,331.1 556.8,334.7 563.1,339.1 569.1,373.1 563.1,397.1 557.1,403.1 549.1,407.1 539.1,413.1 523.1,413.1 511.1,412.1 505.1,403.1 506.1,393.1 499.1,387.1 497.1,375.1 499.1,365.1 502.1,357.1 504.1,348.1 505.1,341.1" fill="#d4ac55"/>
<polygon points="474.7,364.7 469.1,367.1 465.1,373.1 459.1,377.1 453.1,380.1 447.1,381.1 445.1,376.1 442.1,376.1 442.1,384.1 435.1,386.1 427.1,384.1 419.1,384.1 417.1,388.1 421.1,391.1 429.1,394.1 434.1,399.1 436.1,405.1 437.1,411.1 440.1,415.8 439.4,426.8 437.1,436.1 434.7,444.1 441.1,457.1 456.1,465.1 470.1,462.1 470.1,456.7 472.4,452.7 477.1,449.6 481.8,449.6 486.5,452.0 491.1,454.3 496.7,455.9 502.1,454.3 507.0,451.1 509.3,448.8 513.1,441.1 513.1,426.1 519.1,416.1 517.1,409.1 509.0,408.1 509.7,405.4 511.1,399.7 512.5,394.0 512.5,389.0 509.0,387.5 501.8,384.0 504.1,379.1 501.1,371.1 493.1,367.1 483.1,362.1" fill="#d9c493"/>
<polygon points="517.1,464.1 521.1,461.1 523.1,465.1 522.7,472.1 520.1,475.1 517.1,472.1" fill="#d9c493"/>
<polygon points="370.1,436.1 377.1,434.1 383.1,432.1 389.1,435.1 397.1,437.1 407.1,440.1 417.1,443.1 427.1,445.1 434.7,444.1 439.4,450.4 445.7,454.3 452.0,456.7 458.1,459.8 464.5,462.1 470.1,462.1 470.6,466.1 465.1,472.1 457.1,476.1 451.1,477.6 445.1,482.1 439.1,488.1 437.3,491.6 438.1,496.1 440.1,499.6 437.1,503.1 433.1,508.1 429.1,512.6 423.1,516.1 417.1,518.1 409.1,517.1 401.1,518.1 393.1,519.1 386.1,521.1 381.1,519.1 377.1,514.1 375.1,509.1 371.1,505.1 363.1,505.1 357.1,503.1 358.1,497.1 360.1,491.1 359.1,485.1 357.1,481.1 361.1,477.1 366.1,469.1 369.1,461.1 370.1,453.1 371.1,445.1 370.1,440.1" fill="#bd6d08"/>
<polygon points="462.1,492.1 468.1,489.1 470.1,493.1 466.1,496.1" fill="#bd6d08"/>
<polygon points="475.1,489.1 477.1,490.1 477.1,491.6 475.1,490.6" fill="#bd6d08"/>
<polygon points="451.1,498.1 453.1,498.1 453.1,500.6 451.1,500.1" fill="#bd6d08"/>
<polygon points="517.1,301.1 520.1,299.1 525.1,299.6 530.1,299.1 532.1,301.1 534.1,305.1 530.1,309.1 528.1,315.1 531.1,321.1 533.1,327.1 533.1,329.1 527.1,331.1 523.1,329.1 522.1,321.1 521.1,313.1 519.1,307.1" fill="#d4ac55"/>
<polygon points="537.1,311.1 543.1,309.1 545.1,315.1 542.1,321.1 537.1,320.1 536.1,316.1" fill="#d4ac55"/>
<polygon points="530.1,316.1 534.1,317.1 534.1,321.1 531.1,322.1" fill="#d4ac55"/>
<polygon points="559.1,319.1 561.1,319.1 561.1,321.1 559.1,321.1" fill="#d4ac55"/>
<polygon points="484.0,360.4 487.5,357.5 489.7,352.5 492.5,347.5 496.8,341.8 501.8,339.7 507.5,338.1 506.8,342.5 507.5,346.8 504.7,352.5 502.5,356.1 500.4,359.7 501.1,364.0 499.7,367.1 497.1,367.1 491.1,365.1 486.1,363.1" fill="#bd6d08"/>
<polygon points="474.7,364.7 479.7,361.8 484.0,360.4 487.5,359.7 489.7,361.4 493.1,360.7 496.8,360.7 498.1,363.5 499.7,367.1 501.1,369.7 501.8,374.0 500.4,377.5 501.1,381.1 496.8,380.4 494.0,379.7 491.1,376.1 487.5,374.7 484.7,371.8 480.4,370.4 477.5,367.5" fill="#b34c06"/>
<polygon points="498.1,376.8 501.1,377.5 501.8,381.1 499.7,384.0 497.5,381.8" fill="#bd6d08"/>
<polygon points="495.1,419.1 498.1,413.1 503.1,410.1 509.0,408.1 514.7,406.8 520.4,406.1 524.7,407.5 531.1,411.1 531.1,421.1 521.1,425.1 509.1,427.1 501.1,423.1" fill="#d9c493"/>
<polygon points="524.7,407.5 529.0,409.7 533.1,409.0 539.0,409.7 543.1,407.5 546.1,405.4 546.8,402.5 550.4,401.1 554.7,396.1 557.1,394.1 563.1,393.1 571.1,391.1 577.1,390.1 585.1,393.1 585.1,406.1 581.1,417.1 573.1,423.1 557.1,423.1 541.1,421.1 525.1,417.1" fill="#d4ac55"/>
<polygon points="509.3,448.8 505.4,444.9 503.1,440.1 503.8,436.1 501.5,433.1 503.8,428.4 505.4,425.1 509.1,425.1 513.1,425.1 517.1,422.1 521.1,420.1 524.1,417.6 525.1,414.1 529.1,413.6 533.1,414.6 539.7,415.4 548.1,417.5 553.1,418.6 557.1,422.1 555.1,427.1 549.1,426.6 545.1,428.1 544.6,432.1 546.1,437.1 549.1,441.1 554.7,449.7 558.6,455.6 562.5,461.5 567.1,466.1 572.0,468.6 578.1,469.4 582.1,472.6 586.1,475.7 594.0,480.4 600.2,485.1 599.5,489.1 595.5,486.7 590.8,484.3 587.7,485.1 585.3,489.8 587.7,495.3 590.8,498.5 590.0,504.0 586.1,508.7 581.4,511.8 579.0,509.5 581.4,504.0 583.0,499.2 581.4,494.5 576.7,488.2 570.4,484.3 564.9,482.0 560.2,478.0 556.2,472.5 550.0,467.8 543.7,464.7 537.4,461.5 531.1,455.1 526.6,450.1 521.1,446.6 513.1,447.1" fill="#c98a22"/>
<polygon points="551.5,514.1 556.2,512.6 562.1,512.9 567.2,512.6 572.1,511.6 576.7,511.1 578.2,515.0 576.7,521.2 575.1,526.7 570.4,526.0 566.1,523.9 562.5,522.0 558.1,520.6 554.7,518.9 550.7,516.5" fill="#c98a22"/>
<polygon points="514.1,480.1 518.1,478.1 523.1,479.1 525.1,485.1 524.1,493.1 523.1,500.1 518.1,503.1 514.1,501.1 515.1,493.1 514.1,486.1" fill="#c98a22"/>
<polygon points="556.8,334.7 561.1,331.1 566.8,326.8 574.0,323.1 579.7,321.8 585.4,324.7 589.7,324.0 592.5,322.5 601.1,322.5 611.1,322.5 614.0,324.7 618.1,326.1 620.4,331.1 622.5,336.8 620.4,341.1 619.0,345.4 623.1,349.7 626.8,355.4 628.1,362.5 625.4,368.1 622.5,374.0 620.4,379.0 621.1,381.1 616.1,387.1 591.1,387.1 561.1,377.1 562.5,366.8 561.8,361.1 560.4,355.4 559.0,348.1 557.5,341.1" fill="#b34c06"/>
<polygon points="543.6,376.9 549.1,373.1 553.1,370.7 557.1,369.3 561.1,368.7 567.1,371.1 573.1,374.1 579.1,373.1 585.1,376.1 591.1,379.1 595.1,383.1 593.1,393.1 577.1,395.1 571.1,391.1 563.1,393.1 557.1,394.1 553.1,391.1 548.1,385.1" fill="#a40f0d"/>
<polygon points="591.1,379.1 595.4,378.1 601.1,380.4 608.1,379.0 615.4,379.7 621.1,381.1 621.6,386.1 619.1,391.1 613.1,397.1 597.1,399.1 585.1,396.1 580.1,393.1 581.6,389.1 585.1,385.1 589.1,382.1" fill="#b34c06"/>
<polygon points="580.1,393.1 585.1,392.1 591.1,394.6 599.1,394.1 607.1,390.6 615.1,390.1 622.1,391.1 627.1,397.1 623.1,421.1 607.1,429.1 587.1,429.1 573.1,425.1 575.1,417.1 579.0,409.7 579.7,402.5 581.1,399.7" fill="#b34c06"/>
<polygon points="622.1,391.1 629.1,392.1 639.1,391.1 649.1,390.1 657.1,390.6 662.8,391.1 665.6,395.6 668.3,400.1 669.1,405.1 669.1,410.1 672.6,412.6 676.4,413.7 679.1,411.9 683.7,412.8 682.8,416.4 679.1,419.1 680.1,426.4 679.1,432.7 678.1,437.1 665.1,441.1 641.1,445.1 627.1,441.1 619.1,433.1 614.1,422.1 612.1,417.6 615.1,409.1 619.1,399.1" fill="#b34c06"/>
<polygon points="548.1,417.5 556.8,419.0 565.4,417.5 574.0,414.7 576.1,414.1 575.1,419.1 573.1,425.1 567.1,431.1 557.1,431.1 550.1,427.1 548.1,422.1" fill="#b34c06"/>
<polygon points="555.1,427.1 559.1,425.6 565.1,425.1 570.1,422.1 574.1,417.6 578.1,415.1 582.1,420.1 589.1,424.6 595.1,426.1 600.1,428.6 605.1,433.1 599.7,432.5 591.1,431.1 578.1,430.4 571.1,431.6 566.8,436.8 572.1,441.1 579.7,448.1 588.1,454.0 598.1,458.1 605.4,462.5 601.1,461.6 593.1,458.1 585.1,453.1 577.1,447.1 570.1,442.1 565.1,437.1 562.1,432.1 559.1,433.6 556.1,431.1" fill="#b34c06"/>
<polygon points="599.7,432.5 600.1,428.6 599.1,423.1 603.1,420.1 612.1,418.1 614.1,422.1 619.1,428.1 625.1,430.1 629.1,434.1 631.1,440.4 639.1,447.1 639.1,459.1 632.5,457.5 626.8,459.7 619.7,461.8 612.5,457.5 608.1,456.1 605.4,450.4 604.7,444.0 601.1,444.0 598.1,438.1" fill="#bd6d08"/>
<polygon points="631.1,440.4 638.4,441.8 645.6,440.9 652.9,437.3 660.1,433.6 667.4,430.9 672.8,433.6 679.1,432.7 678.3,433.6 676.4,440.9 675.5,446.3 676.8,449.0 675.4,451.8 671.1,453.1 668.1,456.1 669.0,459.0 665.1,467.1 641.1,469.1 635.4,459.7 634.0,456.1 631.8,450.4 632.5,444.7" fill="#a40f0d"/>
<polygon points="617.5,466.1 619.7,462.5 626.8,460.4 634.0,459.7 635.4,459.7 638.1,464.0 641.1,471.1 631.1,477.1 621.8,473.1 618.1,470.4" fill="#b34c06"/>
<polygon points="621.8,473.1 626.8,472.5 632.5,470.4 636.8,467.5 638.1,464.0 644.0,464.7 649.7,464.0 655.4,462.5 661.1,461.1 665.4,460.4 669.0,459.0 669.0,462.5 666.8,466.1 662.5,466.8 656.8,466.8 652.5,468.1 648.1,471.1 646.8,474.0 649.7,476.8 648.1,479.0 645.4,477.5 644.0,479.0 640.4,477.5 638.1,479.0 637.5,481.8 639.7,486.1 644.0,490.4 648.1,493.1 654.0,496.1 656.8,500.4 652.5,499.7 649.7,497.5 646.8,499.7 649.7,504.7 648.1,509.0 645.4,507.5 646.8,513.1 646.1,519.0 643.1,517.5 641.1,521.1 638.1,516.1 634.0,511.8 629.7,507.5 631.1,504.7 635.4,502.5 641.1,501.8 635.1,500.6 629.7,503.1 625.4,500.4 623.1,497.5 619.7,493.1 617.5,489.0 618.1,484.7 619.7,480.4 621.1,476.1" fill="#b34c06"/>
<polygon points="654.1,530.1 661.1,529.1 669.1,530.1 678.1,529.1 679.1,531.1 671.1,534.1 661.1,535.1 655.1,533.1" fill="#b34c06"/>
<polygon points="647.1,491.1 652.1,493.6 656.1,497.1 654.1,498.1 649.1,495.1" fill="#b34c06"/>
<polygon points="659.1,477.6 662.1,477.6 662.1,480.1 659.1,480.1" fill="#b34c06"/>
<polygon points="667.1,483.6 671.6,483.6 672.1,486.6 667.1,486.6" fill="#b34c06"/>
<polygon points="668.6,492.1 671.1,492.1 671.1,496.1 668.6,496.1" fill="#b34c06"/>
<polygon points="677.1,500.1 680.1,500.1 680.1,502.1 677.1,502.1" fill="#b34c06"/>
<polygon points="691.1,512.1 693.1,513.1 692.1,517.1 690.1,516.1" fill="#b34c06"/>
<polygon points="608.1,266.1 613.1,262.1 621.1,260.1 630.1,259.1 631.1,265.1 630.1,271.1 633.1,278.1 631.1,285.1 617.1,287.1 615.1,284.1 615.1,277.1 609.1,273.1" fill="#a40f0d"/>
<polygon points="599.6,276.6 604.1,275.1 605.6,278.1 600.1,280.6" fill="#a40f0d"/>
<polygon points="599.1,271.1 602.1,269.6 603.6,272.6 600.1,273.6" fill="#a40f0d"/>
<polygon points="598.1,291.1 601.1,287.1 607.1,285.1 612.1,289.1 615.1,284.1 619.1,278.1 627.1,277.1 633.1,278.1 636.1,283.1 637.1,289.1 641.1,294.1 638.1,299.1 631.1,305.1 611.1,304.1 599.1,304.1 598.1,300.1" fill="#a40f0d"/>
<polygon points="598.1,300.1 601.1,299.1 609.1,297.1 619.1,298.1 627.1,300.1 638.1,299.1 635.1,305.1 632.5,309.7 626.8,315.4 629.7,319.7 625.1,323.1 618.1,325.6 614.0,324.7 611.1,322.5 611.1,313.1 600.1,312.1 598.1,309.1" fill="#a40f0d"/>
</g>
<g>
<polygon points="609.0,144.0 611.6,139.6 616.5,140.4 619.8,144.6 624.8,141.3 633.0,140.4 641.3,142.9 649.5,145.4 656.0,148.7 661.0,154.5 661.9,161.0 657.8,166.0 649.5,168.5 641.3,169.3 633.0,170.0 628.0,167.7 623.0,167.7 628.0,171.0 633.0,174.3 638.0,177.6 641.3,184.2 646.2,190.0 654.5,193.2 661.0,194.0 661.9,190.0 654.5,187.5 652.8,182.5 657.8,180.9 666.0,180.9 668.5,177.6 664.4,169.3 667.7,157.8 664.0,148.0 662.0,138.0 668.0,130.0 680.0,120.0 690.0,112.0 700.0,104.0 700.0,387.0 693.5,390.8 689.8,394.5 686.2,399.0 684.4,405.3 682.6,411.7 676.0,418.0 660.0,440.0 600.0,420.0 590.0,380.0 610.0,330.0 600.0,322.0 590.0,322.0 589.0,318.0 596.0,313.0 599.0,311.0 620.0,300.0 630.0,270.0 629.0,258.0 634.0,252.0 641.0,250.0 637.0,246.0 628.7,243.7 620.0,200.0 605.0,150.0" fill="#f4f4f4" stroke="none" stroke-width="0.8"/>
<polygon points="566.0,434.0 571.0,434.0 574.0,430.0 588.0,430.0 599.0,428.0 603.0,440.0 612.0,458.0 617.0,463.0 619.0,470.0 624.0,473.0 622.0,476.0 620.0,480.0 616.0,485.0 617.0,489.0 614.0,487.0 611.0,480.0 609.0,472.0 604.0,466.0 598.0,458.0 590.0,452.0 582.0,446.0 576.0,440.0" fill="#f6f6f6" stroke="#dcdcdc" stroke-width="0.8"/>
<polygon points="675.7,447.9 677.2,448.0 681.7,452.7 686.2,455.4 688.0,458.0 692.0,459.5 696.2,459.0 700.0,457.2 700.0,518.8 692.6,515.2 687.1,511.6 689.0,506.1 683.5,502.5 679.0,498.9 675.3,493.4 671.7,489.8 672.6,484.4 669.0,480.8 667.2,474.4 668.5,470.0 667.9,461.4 667.9,457.9 670.0,452.0 674.3,450.7" fill="#f4f4f4" stroke="#d4d4d4" stroke-width="0.8"/>
<polygon points="320.0,585.0 335.0,560.0 346.0,549.0 358.6,541.0 369.0,537.0 375.0,528.0 380.0,523.0 384.0,523.0 388.0,531.0 397.0,533.0 407.0,535.0 418.0,536.0 428.0,532.0 441.0,527.0 454.0,524.0 469.0,524.0 480.0,522.0 490.0,524.0 498.9,523.6 508.0,522.5 517.7,520.4 526.0,520.5 533.4,522.0 538.0,526.7 534.5,532.0 531.9,537.7 530.0,546.0 528.7,553.4 531.0,558.5 535.0,562.9 543.0,567.0 552.3,570.7 562.0,573.0 571.0,575.4 578.0,580.5 583.7,586.4 595.0,590.0 605.7,591.0 612.0,587.0 618.3,581.7 624.0,574.0 630.9,567.6 637.0,564.5 643.4,562.9 656.0,562.9 668.6,566.0 684.3,570.7 701.0,574.0 701.0,607.0 320.0,607.0" fill="#f4f4f4" stroke="#cfcfcf" stroke-width="0.8"/>
</g>
<polyline points="675.7,447.9 677.2,448 681.7,452.7 686.2,455.4 688,458 683.5,460 678,462.6 673.5,465.3 670,469 667.5,473.3" fill="none" stroke="#4a4a4a" stroke-width="0.8"/>
<polyline points="609,144 611.6,139.6 616.5,140.4 619.8,144.6 624.8,141.3 633,140.4 641.3,142.9 649.5,145.4 656,148.7 661,154.5 661.9,161 657.8,166 649.5,168.5 641.3,169.3 633,170 628,167.7 623,167.7 628,171 633,174.3 638,177.6 641.3,184.2 646.2,190 654.5,193.2 661,194 661.9,190 654.5,187.5 652.8,182.5 657.8,180.9 664,180.9" fill="none" stroke="#4a4a4a" stroke-width="0.8"/>
<g stroke-width="0.5" stroke-dasharray="1.6 1">
<polygon points="607.0,144.0 607.0,142.9 606.4,138.6 604.3,135.7 602.0,136.5 600.0,132.0 597.5,134.5 596.0,131.0 594.3,130.7 592.5,133.5 591.0,130.5 588.6,131.4 587.5,134.5 585.7,133.6 584.0,137.5 581.4,137.0 580.5,141.0 577.5,140.0 575.7,142.9 574.5,146.0 572.0,145.0 570.0,148.6 568.5,152.0 566.0,151.0 564.3,154.3 562.5,158.0 560.0,157.0 558.6,161.4 556.0,163.0 554.3,167.0 552.5,170.0 550.0,170.5 548.6,174.3 547.0,178.0 545.0,179.0 544.3,182.9 542.5,187.0 541.0,190.0 540.0,194.3 538.0,199.0 536.5,203.0 535.0,205.0 533.5,209.0 531.0,211.0 529.0,216.0 526.0,218.0 523.5,222.0 521.0,222.5 518.0,226.0 515.0,227.0 513.0,230.5 509.0,232.0 507.0,236.0 503.5,237.0 502.0,242.0 500.0,244.0 501.0,248.0 499.0,251.0 500.5,255.0 498.5,258.0 500.5,262.0 499.5,266.0 501.5,270.0 501.0,274.0 503.0,277.5 506.0,282.0 509.0,284.0 512.0,284.5 515.5,283.0 518.0,281.0 521.0,279.0 524.0,276.0 526.0,272.0 528.0,269.0 530.0,266.0 531.5,267.5 531.5,272.0 533.0,275.0 535.0,275.0 546.0,262.0 550.0,230.0 556.0,200.0 566.0,178.0 582.0,170.0 596.0,158.0 607.0,148.0" fill="#fdedc4" stroke="rgba(90,70,40,0.55)"/>
<polygon points="570.7,157.9 567.0,161.4 561.4,165.7 557.0,171.4 554.3,177.0 551.4,184.3 548.6,191.4 547.0,198.6 547.0,205.0 545.0,212.0 541.0,220.0 539.0,230.0 540.0,240.0 541.0,250.0 540.0,260.0 537.0,267.0 535.0,275.0 533.8,279.0 533.6,284.3 537.0,291.4 541.4,298.6 545.0,307.0 545.7,314.3 550.0,314.8 555.0,313.6 559.0,309.0 562.9,304.3 565.0,297.0 566.4,291.4 567.0,285.0 567.0,278.6 573.0,272.0 576.0,266.0 575.0,260.0 571.0,256.0 567.0,250.0 565.5,240.0 568.0,230.0 572.0,222.0 577.0,212.5 579.5,202.5 582.9,195.7 587.0,192.0 590.7,191.4 598.0,180.0 590.0,162.0 580.0,158.0" fill="#fbdc94" stroke="rgba(90,70,40,0.55)"/>
<polygon points="570.7,157.9 575.7,160.4 581.4,161.0 585.7,159.6 589.3,157.9 590.3,154.3 590.0,148.6 591.4,143.6 592.9,142.0 597.0,141.5 601.4,142.9 602.9,148.6 604.3,154.3 608.6,160.0 611.4,165.7 612.9,172.9 615.7,180.0 617.9,185.7 619.3,192.9 622.9,200.0 625.7,205.0 630.0,210.0 635.0,217.5 632.5,230.0 628.7,243.7 622.5,247.5 610.0,253.7 600.0,256.0 591.0,252.5 588.7,245.0 586.0,235.0 587.5,225.0 592.5,215.0 598.7,205.0 600.7,197.0 598.6,192.9 592.9,190.7 590.7,191.4 590.0,185.7 587.9,177.0 585.7,168.6 580.0,164.3 574.3,161.4" fill="#fbdc94" stroke="rgba(90,70,40,0.55)"/>
<polygon points="581.5,284.0 582.6,285.0 580.5,289.0 578.8,292.5 577.3,294.3 577.6,291.0 579.5,287.0" fill="#fbdc94" stroke="rgba(90,70,40,0.55)"/>
<polygon points="569.6,293.6 570.4,294.0 568.6,299.0 567.4,303.5 566.8,303.3 568.0,298.0" fill="#fbdc94" stroke="rgba(90,70,40,0.55)"/>
<polygon points="436.6,273.8 434.0,278.0 432.7,281.7 433.5,285.0 431.7,289.6 433.5,294.0 432.7,299.5 433.5,304.0 431.7,309.4 429.7,313.4 434.0,313.5 439.6,315.3 440.6,321.3 439.5,326.0 438.6,329.2 434.0,330.0 429.7,332.2 426.7,337.1 432.7,340.1 431.7,345.0 427.7,349.0 432.0,349.5 436.6,351.0 437.6,354.0 432.0,356.0 427.7,357.9 422.5,361.0 418.8,363.9 415.8,366.8 419.8,368.8 424.5,366.5 429.7,365.8 435.0,364.5 441.6,363.9 447.0,364.3 453.5,362.9 458.5,362.5 463.4,360.9 464.5,358.0 466.3,355.9 468.5,352.5 469.3,349.0 468.3,344.1 465.0,341.5 461.4,340.1 460.5,336.5 459.4,333.2 457.4,325.2 455.5,320.0 453.5,315.3 452.0,311.0 450.5,307.4 448.0,304.5 446.5,302.5 447.5,299.0 449.5,295.5 453.5,289.6 452.5,285.6 447.5,282.7 443.6,281.7 444.6,277.7 449.5,274.8 448.5,272.8 442.6,272.2" fill="#c4c4c4" stroke="rgba(90,70,40,0.55)"/>
<polygon points="409.0,311.0 414.0,307.0 421.0,306.0 425.0,310.0 424.0,315.0 419.0,318.0 413.0,316.0" fill="#c4c4c4" stroke="rgba(90,70,40,0.55)"/>
<polygon points="406.0,310.0 410.0,305.0 417.0,304.0 414.0,307.0 409.0,311.0 413.0,316.0 419.0,318.0 418.0,324.0 417.0,332.0 413.0,338.0 406.0,339.0 398.0,341.0 390.0,340.0 387.0,336.0 391.0,332.0 389.0,328.0 395.0,324.0 394.0,318.0 395.0,313.0 402.0,312.0" fill="#f09416" stroke="rgba(90,70,40,0.55)"/>
<polygon points="506.4,337.0 510.0,336.0 514.0,334.5 518.0,335.0 520.0,332.0 522.0,328.0 526.0,330.0 532.0,328.0 535.0,333.0 540.0,330.0 546.0,328.0 552.0,330.0 555.7,333.6 562.0,338.0 568.0,372.0 562.0,396.0 556.0,402.0 548.0,406.0 538.0,412.0 522.0,412.0 510.0,411.0 504.0,402.0 505.0,392.0 498.0,386.0 496.0,374.0 498.0,364.0 501.0,356.0 503.0,347.0 504.0,340.0" fill="#fbdc94" stroke="rgba(90,70,40,0.55)"/>
<polygon points="473.6,363.6 468.0,366.0 464.0,372.0 458.0,376.0 452.0,379.0 446.0,380.0 444.0,375.0 441.0,375.0 441.0,383.0 434.0,385.0 426.0,383.0 418.0,383.0 416.0,387.0 420.0,390.0 428.0,393.0 433.0,398.0 435.0,404.0 436.0,410.0 439.0,414.7 438.3,425.7 436.0,435.0 433.6,443.0 440.0,456.0 455.0,464.0 469.0,461.0 469.0,455.6 471.3,451.6 476.0,448.5 480.7,448.5 485.4,450.9 490.0,453.2 495.6,454.8 501.0,453.2 505.9,450.0 508.2,447.7 512.0,440.0 512.0,425.0 518.0,415.0 516.0,408.0 507.9,407.0 508.6,404.3 510.0,398.6 511.4,392.9 511.4,387.9 507.9,386.4 500.7,382.9 503.0,378.0 500.0,370.0 492.0,366.0 482.0,361.0" fill="#fdedc4" stroke="rgba(90,70,40,0.55)"/>
<polygon points="516.0,463.0 520.0,460.0 522.0,464.0 521.6,471.0 519.0,474.0 516.0,471.0" fill="#fdedc4" stroke="rgba(90,70,40,0.55)"/>
<polygon points="369.0,435.0 376.0,433.0 382.0,431.0 388.0,434.0 396.0,436.0 406.0,439.0 416.0,442.0 426.0,444.0 433.6,443.0 438.3,449.3 444.6,453.2 450.9,455.6 457.0,458.7 463.4,461.0 469.0,461.0 469.5,465.0 464.0,471.0 456.0,475.0 450.0,476.5 444.0,481.0 438.0,487.0 436.2,490.5 437.0,495.0 439.0,498.5 436.0,502.0 432.0,507.0 428.0,511.5 422.0,515.0 416.0,517.0 408.0,516.0 400.0,517.0 392.0,518.0 385.0,520.0 380.0,518.0 376.0,513.0 374.0,508.0 370.0,504.0 362.0,504.0 356.0,502.0 357.0,496.0 359.0,490.0 358.0,484.0 356.0,480.0 360.0,476.0 365.0,468.0 368.0,460.0 369.0,452.0 370.0,444.0 369.0,439.0" fill="#f09416" stroke="rgba(90,70,40,0.55)"/>
<polygon points="461.0,491.0 467.0,488.0 469.0,492.0 465.0,495.0" fill="#f09416" stroke="rgba(90,70,40,0.55)"/>
<polygon points="474.0,488.0 476.0,489.0 476.0,490.5 474.0,489.5" fill="#f09416" stroke="rgba(90,70,40,0.55)"/>
<polygon points="450.0,497.0 452.0,497.0 452.0,499.5 450.0,499.0" fill="#f09416" stroke="rgba(90,70,40,0.55)"/>
<polygon points="516.0,300.0 519.0,298.0 524.0,298.5 529.0,298.0 531.0,300.0 533.0,304.0 529.0,308.0 527.0,314.0 530.0,320.0 532.0,326.0 532.0,328.0 526.0,330.0 522.0,328.0 521.0,320.0 520.0,312.0 518.0,306.0" fill="#fbdc94" stroke="rgba(90,70,40,0.55)"/>
<polygon points="536.0,310.0 542.0,308.0 544.0,314.0 541.0,320.0 536.0,319.0 535.0,315.0" fill="#fbdc94" stroke="rgba(90,70,40,0.55)"/>
<polygon points="529.0,315.0 533.0,316.0 533.0,320.0 530.0,321.0" fill="#fbdc94" stroke="rgba(90,70,40,0.55)"/>
<polygon points="558.0,318.0 560.0,318.0 560.0,320.0 558.0,320.0" fill="#fbdc94" stroke="rgba(90,70,40,0.55)"/>
<polygon points="482.9,359.3 486.4,356.4 488.6,351.4 491.4,346.4 495.7,340.7 500.7,338.6 506.4,337.0 505.7,341.4 506.4,345.7 503.6,351.4 501.4,355.0 499.3,358.6 500.0,362.9 498.6,366.0 496.0,366.0 490.0,364.0 485.0,362.0" fill="#f09416" stroke="rgba(90,70,40,0.55)"/>
<polygon points="473.6,363.6 478.6,360.7 482.9,359.3 486.4,358.6 488.6,360.3 492.0,359.6 495.7,359.6 497.0,362.4 498.6,366.0 500.0,368.6 500.7,372.9 499.3,376.4 500.0,380.0 495.7,379.3 492.9,378.6 490.0,375.0 486.4,373.6 483.6,370.7 479.3,369.3 476.4,366.4" fill="#e86f13" stroke="rgba(90,70,40,0.55)"/>
<polygon points="497.0,375.7 500.0,376.4 500.7,380.0 498.6,382.9 496.4,380.7" fill="#f09416" stroke="rgba(90,70,40,0.55)"/>
<polygon points="494.0,418.0 497.0,412.0 502.0,409.0 507.9,407.0 513.6,405.7 519.3,405.0 523.6,406.4 530.0,410.0 530.0,420.0 520.0,424.0 508.0,426.0 500.0,422.0" fill="#fdedc4" stroke="rgba(90,70,40,0.55)"/>
<polygon points="523.6,406.4 527.9,408.6 532.0,407.9 537.9,408.6 542.0,406.4 545.0,404.3 545.7,401.4 549.3,400.0 553.6,395.0 556.0,393.0 562.0,392.0 570.0,390.0 576.0,389.0 584.0,392.0 584.0,405.0 580.0,416.0 572.0,422.0 556.0,422.0 540.0,420.0 524.0,416.0" fill="#fbdc94" stroke="rgba(90,70,40,0.55)"/>
<polygon points="508.2,447.7 504.3,443.8 502.0,439.0 502.7,435.0 500.4,432.0 502.7,427.3 504.3,424.0 508.0,424.0 512.0,424.0 516.0,421.0 520.0,419.0 523.0,416.5 524.0,413.0 528.0,412.5 532.0,413.5 538.6,414.3 547.0,416.4 552.0,417.5 556.0,421.0 554.0,426.0 548.0,425.5 544.0,427.0 543.5,431.0 545.0,436.0 548.0,440.0 553.6,448.6 557.5,454.5 561.4,460.4 566.0,465.0 570.9,467.5 577.0,468.3 581.0,471.5 585.0,474.6 592.9,479.3 599.1,484.0 598.4,488.0 594.4,485.6 589.7,483.2 586.6,484.0 584.2,488.7 586.6,494.2 589.7,497.4 588.9,502.9 585.0,507.6 580.3,510.7 577.9,508.4 580.3,502.9 581.9,498.1 580.3,493.4 575.6,487.1 569.3,483.2 563.8,480.9 559.1,476.9 555.1,471.4 548.9,466.7 542.6,463.6 536.3,460.4 530.0,454.0 525.5,449.0 520.0,445.5 512.0,446.0" fill="#f8b94a" stroke="rgba(90,70,40,0.55)"/>
<polygon points="550.4,513.0 555.1,511.5 561.0,511.8 566.1,511.5 571.0,510.5 575.6,510.0 577.1,513.9 575.6,520.1 574.0,525.6 569.3,524.9 565.0,522.8 561.4,520.9 557.0,519.5 553.6,517.8 549.6,515.4" fill="#f8b94a" stroke="rgba(90,70,40,0.55)"/>
<polygon points="513.0,479.0 517.0,477.0 522.0,478.0 524.0,484.0 523.0,492.0 522.0,499.0 517.0,502.0 513.0,500.0 514.0,492.0 513.0,485.0" fill="#f8b94a" stroke="rgba(90,70,40,0.55)"/>
<polygon points="555.7,333.6 560.0,330.0 565.7,325.7 572.9,322.0 578.6,320.7 584.3,323.6 588.6,322.9 591.4,321.4 600.0,321.4 610.0,321.4 612.9,323.6 617.0,325.0 619.3,330.0 621.4,335.7 619.3,340.0 617.9,344.3 622.0,348.6 625.7,354.3 627.0,361.4 624.3,367.0 621.4,372.9 619.3,377.9 620.0,380.0 615.0,386.0 590.0,386.0 560.0,376.0 561.4,365.7 560.7,360.0 559.3,354.3 557.9,347.0 556.4,340.0" fill="#e86f13" stroke="rgba(90,70,40,0.55)"/>
<polygon points="542.5,375.8 548.0,372.0 552.0,369.6 556.0,368.2 560.0,367.6 566.0,370.0 572.0,373.0 578.0,372.0 584.0,375.0 590.0,378.0 594.0,382.0 592.0,392.0 576.0,394.0 570.0,390.0 562.0,392.0 556.0,393.0 552.0,390.0 547.0,384.0" fill="#e21f1c" stroke="rgba(90,70,40,0.55)"/>
<polygon points="590.0,378.0 594.3,377.0 600.0,379.3 607.0,377.9 614.3,378.6 620.0,380.0 620.5,385.0 618.0,390.0 612.0,396.0 596.0,398.0 584.0,395.0 579.0,392.0 580.5,388.0 584.0,384.0 588.0,381.0" fill="#e86f13" stroke="rgba(90,70,40,0.55)"/>
<polygon points="579.0,392.0 584.0,391.0 590.0,393.5 598.0,393.0 606.0,389.5 614.0,389.0 621.0,390.0 626.0,396.0 622.0,420.0 606.0,428.0 586.0,428.0 572.0,424.0 574.0,416.0 577.9,408.6 578.6,401.4 580.0,398.6" fill="#e86f13" stroke="rgba(90,70,40,0.55)"/>
<polygon points="621.0,390.0 628.0,391.0 638.0,390.0 648.0,389.0 656.0,389.5 661.7,390.0 664.5,394.5 667.2,399.0 668.0,404.0 668.0,409.0 671.5,411.5 675.3,412.6 678.0,410.8 682.6,411.7 681.7,415.3 678.0,418.0 679.0,425.3 678.0,431.6 677.0,436.0 664.0,440.0 640.0,444.0 626.0,440.0 618.0,432.0 613.0,421.0 611.0,416.5 614.0,408.0 618.0,398.0" fill="#e86f13" stroke="rgba(90,70,40,0.55)"/>
<polygon points="547.0,416.4 555.7,417.9 564.3,416.4 572.9,413.6 575.0,413.0 574.0,418.0 572.0,424.0 566.0,430.0 556.0,430.0 549.0,426.0 547.0,421.0" fill="#e86f13" stroke="rgba(90,70,40,0.55)"/>
<polygon points="554.0,426.0 558.0,424.5 564.0,424.0 569.0,421.0 573.0,416.5 577.0,414.0 581.0,419.0 588.0,423.5 594.0,425.0 599.0,427.5 604.0,432.0 598.6,431.4 590.0,430.0 577.0,429.3 570.0,430.5 565.7,435.7 571.0,440.0 578.6,447.0 587.0,452.9 597.0,457.0 604.3,461.4 600.0,460.5 592.0,457.0 584.0,452.0 576.0,446.0 569.0,441.0 564.0,436.0 561.0,431.0 558.0,432.5 555.0,430.0" fill="#e86f13" stroke="rgba(90,70,40,0.55)"/>
<polygon points="598.6,431.4 599.0,427.5 598.0,422.0 602.0,419.0 611.0,417.0 613.0,421.0 618.0,427.0 624.0,429.0 628.0,433.0 630.0,439.3 638.0,446.0 638.0,458.0 631.4,456.4 625.7,458.6 618.6,460.7 611.4,456.4 607.0,455.0 604.3,449.3 603.6,442.9 600.0,442.9 597.0,437.0" fill="#f09416" stroke="rgba(90,70,40,0.55)"/>
<polygon points="630.0,439.3 637.3,440.7 644.5,439.8 651.8,436.2 659.0,432.5 666.3,429.8 671.7,432.5 678.0,431.6 677.2,432.5 675.3,439.8 674.4,445.2 675.7,447.9 674.3,450.7 670.0,452.0 667.0,455.0 667.9,457.9 664.0,466.0 640.0,468.0 634.3,458.6 632.9,455.0 630.7,449.3 631.4,443.6" fill="#e21f1c" stroke="rgba(90,70,40,0.55)"/>
<polygon points="616.4,465.0 618.6,461.4 625.7,459.3 632.9,458.6 634.3,458.6 637.0,462.9 640.0,470.0 630.0,476.0 620.7,472.0 617.0,469.3" fill="#e86f13" stroke="rgba(90,70,40,0.55)"/>
<polygon points="620.7,472.0 625.7,471.4 631.4,469.3 635.7,466.4 637.0,462.9 642.9,463.6 648.6,462.9 654.3,461.4 660.0,460.0 664.3,459.3 667.9,457.9 667.9,461.4 665.7,465.0 661.4,465.7 655.7,465.7 651.4,467.0 647.0,470.0 645.7,472.9 648.6,475.7 647.0,477.9 644.3,476.4 642.9,477.9 639.3,476.4 637.0,477.9 636.4,480.7 638.6,485.0 642.9,489.3 647.0,492.0 652.9,495.0 655.7,499.3 651.4,498.6 648.6,496.4 645.7,498.6 648.6,503.6 647.0,507.9 644.3,506.4 645.7,512.0 645.0,517.9 642.0,516.4 640.0,520.0 637.0,515.0 632.9,510.7 628.6,506.4 630.0,503.6 634.3,501.4 640.0,500.7 634.0,499.5 628.6,502.0 624.3,499.3 622.0,496.4 618.6,492.0 616.4,487.9 617.0,483.6 618.6,479.3 620.0,475.0" fill="#e86f13" stroke="rgba(90,70,40,0.55)"/>
<polygon points="653.0,529.0 660.0,528.0 668.0,529.0 677.0,528.0 678.0,530.0 670.0,533.0 660.0,534.0 654.0,532.0" fill="#e86f13" stroke="rgba(90,70,40,0.55)"/>
<polygon points="646.0,490.0 651.0,492.5 655.0,496.0 653.0,497.0 648.0,494.0" fill="#e86f13" stroke="rgba(90,70,40,0.55)"/>
<polygon points="658.0,476.5 661.0,476.5 661.0,479.0 658.0,479.0" fill="#e86f13" stroke="rgba(90,70,40,0.55)"/>
<polygon points="666.0,482.5 670.5,482.5 671.0,485.5 666.0,485.5" fill="#e86f13" stroke="rgba(90,70,40,0.55)"/>
<polygon points="667.5,491.0 670.0,491.0 670.0,495.0 667.5,495.0" fill="#e86f13" stroke="rgba(90,70,40,0.55)"/>
<polygon points="676.0,499.0 679.0,499.0 679.0,501.0 676.0,501.0" fill="#e86f13" stroke="rgba(90,70,40,0.55)"/>
<polygon points="690.0,511.0 692.0,512.0 691.0,516.0 689.0,515.0" fill="#e86f13" stroke="rgba(90,70,40,0.55)"/>
<polygon points="607.0,265.0 612.0,261.0 620.0,259.0 629.0,258.0 630.0,264.0 629.0,270.0 632.0,277.0 630.0,284.0 616.0,286.0 614.0,283.0 614.0,276.0 608.0,272.0" fill="#e21f1c" stroke="rgba(90,70,40,0.55)"/>
<polygon points="598.5,275.5 603.0,274.0 604.5,277.0 599.0,279.5" fill="#e21f1c" stroke="rgba(90,70,40,0.55)"/>
<polygon points="598.0,270.0 601.0,268.5 602.5,271.5 599.0,272.5" fill="#e21f1c" stroke="rgba(90,70,40,0.55)"/>
<polygon points="597.0,290.0 600.0,286.0 606.0,284.0 611.0,288.0 614.0,283.0 618.0,277.0 626.0,276.0 632.0,277.0 635.0,282.0 636.0,288.0 640.0,293.0 637.0,298.0 630.0,304.0 610.0,303.0 598.0,303.0 597.0,299.0" fill="#e21f1c" stroke="rgba(90,70,40,0.55)"/>
<polygon points="597.0,299.0 600.0,298.0 608.0,296.0 618.0,297.0 626.0,299.0 637.0,298.0 634.0,304.0 631.4,308.6 625.7,314.3 628.6,318.6 624.0,322.0 617.0,324.5 612.9,323.6 610.0,321.4 610.0,312.0 599.0,311.0 597.0,308.0" fill="#e21f1c" stroke="rgba(90,70,40,0.55)"/>
</g>
<g fill="none" stroke="rgba(70,55,30,0.7)" stroke-width="0.55" stroke-dasharray="1.6 1">
<polyline points="371.0,447.0 378.0,450.0 385.0,452.0 386.0,458.0 382.0,464.0 380.0,470.0 378.0,476.0 375.0,480.0 376.0,488.0 374.0,494.0 370.0,500.0 370.0,504.0"/>
</g>
<g fill="#2a2016"><circle cx="651.8" cy="470.8" r="0.8"/><circle cx="657.2" cy="470.8" r="0.8"/><circle cx="662.7" cy="473.5" r="0.8"/><circle cx="655.4" cy="492.5" r="0.8"/><circle cx="660" cy="501.6" r="0.8"/><circle cx="662.7" cy="504.3" r="0.8"/><circle cx="665.4" cy="508.8" r="0.8"/><circle cx="670" cy="509.8" r="0.8"/><circle cx="671.7" cy="502.5" r="0.8"/><circle cx="677.2" cy="499.8" r="0.8"/><circle cx="681.7" cy="507" r="0.8"/><circle cx="676.3" cy="512.5" r="0.8"/><circle cx="667.2" cy="513.4" r="0.8"/><circle cx="658.1" cy="513.4" r="0.8"/><circle cx="655.4" cy="504.3" r="0.8"/><circle cx="668.1" cy="516.1" r="0.8"/><circle cx="685.3" cy="521.5" r="0.8"/><circle cx="663" cy="497" r="0.8"/><circle cx="673" cy="507" r="0.8"/><circle cx="680" cy="515" r="0.8"/><circle cx="650" cy="515" r="0.8"/><circle cx="646" cy="521" r="0.8"/></g>
<g fill="none" stroke="#1e1a14" stroke-width="0.9" stroke-linecap="round">
<polyline points="590.5,321.5 592.0,317.0 596.5,312.8 599.0,311.2"/>
<polyline points="596.0,315.0 597.5,314.0 597.0,316.0"/>
<polyline points="628.7,243.7 634.0,247.0 639.3,249.0 640.5,250.5 636.0,252.5 630.0,255.5 629.0,258.0"/>
<polyline points="422.4,280.0 425.0,276.0 428.0,272.0 429.6,271.0"/>
<polyline points="424.0,298.0 427.0,300.0 429.0,303.0"/>
<polyline points="427.0,284.0 429.0,289.0"/>
<polyline points="426.5,293.0 428.5,295.5"/>
<polyline points="429.8,320.0 430.3,320.6"/>
<polyline points="429.6,331.0 430.4,331.5"/>
<polyline points="450.0,268.0 450.8,268.6"/>
<polyline points="463.0,253.0 462.6,256.0 462.0,259.0"/>
<polyline points="446.0,363.4 446.8,363.6"/>
<polyline points="429.3,228.3 430.3,229.0 431.0,228.0"/>
<polyline points="583.0,257.0 584.5,257.5"/>
<polyline points="586.0,258.5 587.0,258.0"/>
<polyline points="539.0,321.0 541.0,322.5"/>
<polyline points="533.0,322.0 534.5,323.0"/>
<polyline points="558.5,157.5 556.0,160.0 554.5,158.5 552.5,161.5 550.5,161.0 549.0,164.0 547.0,164.0 545.5,166.0"/>
<polyline points="556.0,156.0 553.5,157.5 554.5,159.0"/>
<polyline points="540.5,171.3 541.0,171.8"/>
<polyline points="538.6,173.4 539.0,173.9"/>
<polyline points="563.0,152.0 561.0,154.5 562.5,156.0"/>
<polyline points="567.0,147.0 565.5,150.0"/>
<polyline points="572.0,142.0 570.5,145.5"/>
<polyline points="577.0,137.5 576.0,141.0"/>
<polyline points="582.0,133.5 582.5,137.5"/>
<polyline points="586.5,131.0 587.5,135.0"/>
<polyline points="590.0,128.5 591.0,132.0"/>
<polyline points="594.5,129.0 594.0,133.0"/>
<polyline points="598.5,130.0 598.5,134.5 601.0,133.5"/>
<polyline points="603.0,133.0 603.5,136.5"/>
<polyline points="551.0,169.0 549.5,172.0 550.5,173.0"/>
<polyline points="546.0,177.0 545.0,180.5"/>
<polyline points="543.0,185.0 541.5,188.0"/>
<polyline points="540.0,192.0 538.5,195.5"/>
<polyline points="536.5,200.5 535.0,203.5"/>
<polyline points="532.5,206.0 531.5,210.0"/>
<polyline points="528.5,213.0 527.0,216.5"/>
<polyline points="523.5,219.0 526.0,221.5 524.5,223.0"/>
<polyline points="519.5,223.0 518.5,226.5"/>
<polyline points="514.0,226.0 513.0,229.5"/>
<polyline points="509.5,230.0 508.0,234.0"/>
<polyline points="504.5,235.0 503.0,239.0"/>
<polyline points="500.0,246.0 503.5,247.0 501.5,249.5"/>
<polyline points="499.0,253.0 502.5,254.0"/>
<polyline points="498.5,259.5 502.0,260.0"/>
<polyline points="500.0,264.0 503.0,263.5"/>
<polyline points="500.5,269.0 504.0,267.5 503.0,271.0"/>
<polyline points="507.0,280.0 508.0,276.0"/>
<polyline points="512.0,282.5 513.0,279.0"/>
<polyline points="518.0,279.5 517.5,276.0"/>
</g>
</g>
<g font-family="'Liberation Serif', serif"><text x="350" y="21.5" font-size="19.5" font-weight="bold" fill="#111" text-anchor="middle" textLength="367" lengthAdjust="spacingAndGlyphs">La flambée des prix affecte l’ensemble</text>
<text x="350" y="45.5" font-size="19.5" font-weight="bold" fill="#111" text-anchor="middle" textLength="184" lengthAdjust="spacingAndGlyphs">des pays européens</text>
</g>
<text x="7" y="79" font-size="11.5" fill="#111"><tspan font-weight="bold" textLength="179" lengthAdjust="spacingAndGlyphs">Evolution de l’inflation mensuelle</tspan> <tspan fill="#333" textLength="64" lengthAdjust="spacingAndGlyphs">(IPCH), en %</tspan></text>
<line x1="8" x2="313.5" y1="102.00" y2="102.00" stroke="#cfcfcf" stroke-width="1"/>
<line x1="8" x2="313.5" y1="126.25" y2="126.25" stroke="#cfcfcf" stroke-width="1"/>
<line x1="8" x2="313.5" y1="150.50" y2="150.50" stroke="#cfcfcf" stroke-width="1"/>
<line x1="8" x2="313.5" y1="174.75" y2="174.75" stroke="#cfcfcf" stroke-width="1"/>
<line x1="8" x2="313.5" y1="199.00" y2="199.00" stroke="#cfcfcf" stroke-width="1"/>
<line x1="8" x2="313.5" y1="247.50" y2="247.50" stroke="#cfcfcf" stroke-width="1"/>
<line x1="8" x2="313.5" y1="223.25" y2="223.25" stroke="#555" stroke-width="1.5"/>
<text x="8" y="99.0" font-size="11.5" fill="#9a9a9a">10</text>
<text x="8" y="123.2" font-size="11.5" fill="#9a9a9a">8</text>
<text x="8" y="147.5" font-size="11.5" fill="#9a9a9a">6</text>
<text x="8" y="171.8" font-size="11.5" fill="#9a9a9a">4</text>
<text x="8" y="196.0" font-size="11.5" fill="#9a9a9a">2</text>
<text x="8" y="220.2" font-size="11.5" fill="#9a9a9a">0</text>
<text x="6.5" y="244.5" font-size="11.5" fill="#9a9a9a">– 2</text>
<rect x="88" y="128" width="86" height="46" fill="#fff"/>
<line x1="8" x2="313.5" y1="174.75" y2="174.75" stroke="#cfcfcf" stroke-width="1"/>
<polyline points="26.0,218.4 38.0,220.8 50.0,212.3 62.0,220.8 74.0,223.2 86.0,222.0 98.0,220.8 110.0,223.2 122.0,213.6 134.0,213.6 146.0,206.3 158.0,203.8 170.0,201.4 182.0,200.2 194.0,205.1 206.0,194.2 218.0,190.5 230.0,184.4 242.0,182.0 254.0,182.0 266.0,183.2 278.0,172.3 290.0,161.4 302.0,157.8 314.0,144.4" fill="none" stroke="#d9403c" stroke-width="2.4" stroke-linejoin="round" stroke-linecap="round"/>
<polyline points="26.0,222.0 38.0,219.6 50.0,218.4 62.0,225.7 74.0,226.9 86.0,226.9 98.0,226.9 110.0,226.9 122.0,212.3 134.0,212.3 146.0,207.5 158.0,203.8 170.0,199.0 182.0,200.2 194.0,196.6 206.0,186.9 218.0,182.0 230.0,173.5 242.0,163.8 254.0,162.6 266.0,161.4 278.0,151.7 290.0,133.5 302.0,133.5 314.0,119.0" fill="none" stroke="#1878a8" stroke-width="2.4" stroke-linejoin="round" stroke-linecap="round"/>
<line x1="92" x2="111" y1="137.5" y2="137.5" stroke="#1878a8" stroke-width="2"/><line x1="92" x2="111" y1="153.7" y2="153.7" stroke="#d9403c" stroke-width="2"/>
<text x="116" y="139.7" font-size="12" fill="#222" textLength="55" lengthAdjust="spacingAndGlyphs">Zone euro</text>
<text x="116" y="155.7" font-size="12" fill="#222" textLength="37" lengthAdjust="spacingAndGlyphs">France</text>
<path d="M113.5 161.8 H143 C148 161.8 150 170 152.5 170 C154 170 153 161.8 156.5 161.8 H162.5" fill="none" stroke="#222" stroke-width="0.9"/>
<text x="309.5" y="115.5" font-size="15.5" font-weight="bold" fill="#111" textLength="26.5" lengthAdjust="spacingAndGlyphs">8,6</text>
<text x="309.5" y="141" font-size="15.5" font-weight="bold" fill="#111" textLength="26.5" lengthAdjust="spacingAndGlyphs">6,5</text>
<text x="18.5" y="213.8" font-size="11.5" fill="#222" textLength="16.5" lengthAdjust="spacingAndGlyphs">0,4</text>
<text x="18.5" y="233.8" font-size="11.5" fill="#222" textLength="14.5" lengthAdjust="spacingAndGlyphs">0,1</text>
<text x="96" y="238.8" font-size="11.5" fill="#222" textLength="25" lengthAdjust="spacingAndGlyphs">– 0,3</text>
<text x="171.5" y="194" font-size="11.5" fill="#222" text-anchor="middle">2</text>
<text x="165" y="214" font-size="11.5" fill="#222" textLength="14.5" lengthAdjust="spacingAndGlyphs">1,8</text>
<text x="27.5" y="259.5" font-size="12" fill="#111" text-anchor="middle" textLength="19.5" lengthAdjust="spacingAndGlyphs">Mai</text>
<text x="26.5" y="272.5" font-size="12" fill="#111" text-anchor="middle" textLength="27.5" lengthAdjust="spacingAndGlyphs">2020</text>
<text x="171.5" y="259.5" font-size="12" fill="#9a9a9a" text-anchor="middle" textLength="19" lengthAdjust="spacingAndGlyphs">Mai</text>
<text x="171.5" y="272.5" font-size="12" fill="#9a9a9a" text-anchor="middle" textLength="25.5" lengthAdjust="spacingAndGlyphs">2021</text>
<text x="308.5" y="259.5" font-size="12" fill="#111" text-anchor="middle" textLength="19" lengthAdjust="spacingAndGlyphs">Juin</text>
<text x="295" y="272.5" font-size="12" fill="#111" textLength="37.5" lengthAdjust="spacingAndGlyphs">2022**</text>
<text x="7" y="318" font-size="11.5" fill="#111"><tspan font-weight="bold" textLength="124.5" lengthAdjust="spacingAndGlyphs">Taux d’inflation annuel,</tspan> <tspan fill="#333" textLength="120" lengthAdjust="spacingAndGlyphs">en % dans la zone euro</tspan></text>
<line x1="6.5" x2="25" y1="334.5" y2="334.5" stroke="#1878a8" stroke-width="2"/><line x1="89.5" x2="108.5" y1="334.5" y2="334.5" stroke="#d9403c" stroke-width="2"/><line x1="6.5" x2="25" y1="349.5" y2="349.5" stroke="#c683bd" stroke-width="2"/>
<text x="29.5" y="336.8" font-size="12" fill="#222" textLength="41.5" lengthAdjust="spacingAndGlyphs">Energie</text>
<text x="113" y="336.8" font-size="12" fill="#222" textLength="160" lengthAdjust="spacingAndGlyphs">Alimentation, alcool et tabac</text>
<text x="29.5" y="351.8" font-size="12" fill="#222" textLength="46.5" lengthAdjust="spacingAndGlyphs">Services</text>
<line x1="8" x2="313.5" y1="386.80" y2="386.80" stroke="#cfcfcf" stroke-width="1"/>
<text x="8" y="382.8" font-size="11.5" fill="#9a9a9a">50</text>
<line x1="8" x2="313.5" y1="411.24" y2="411.24" stroke="#cfcfcf" stroke-width="1"/>
<text x="8" y="407.2" font-size="11.5" fill="#9a9a9a">40</text>
<line x1="8" x2="313.5" y1="435.68" y2="435.68" stroke="#cfcfcf" stroke-width="1"/>
<text x="8" y="431.7" font-size="11.5" fill="#9a9a9a">30</text>
<line x1="8" x2="313.5" y1="460.12" y2="460.12" stroke="#cfcfcf" stroke-width="1"/>
<text x="8" y="456.1" font-size="11.5" fill="#9a9a9a">20</text>
<line x1="8" x2="313.5" y1="484.56" y2="484.56" stroke="#cfcfcf" stroke-width="1"/>
<text x="8" y="480.6" font-size="11.5" fill="#9a9a9a">10</text>
<text x="8" y="505.0" font-size="11.5" fill="#9a9a9a">0</text>
<polyline points="31.0,506.3 71.4,503.1 111.8,503.4 152.2,502.9 192.6,502.4 233.0,500.9 273.4,500.4 313.8,500.7" fill="none" stroke="#c683bd" stroke-width="1.9" stroke-linejoin="round" stroke-linecap="round"/>
<polyline points="31.0,507.8 71.4,501.2 111.8,500.4 152.2,498.7 192.6,496.8 233.0,493.6 273.4,490.7 313.8,487.2" fill="none" stroke="#d9403c" stroke-width="2.1" stroke-linejoin="round" stroke-linecap="round"/>
<polyline points="31.0,477.0 71.4,445.7 111.8,438.6 152.2,430.8 192.6,400.7 233.0,417.4 273.4,413.4 313.8,406.6" fill="none" stroke="#1878a8" stroke-width="2.1" stroke-linejoin="round" stroke-linecap="round"/>
<line x1="8" x2="313.5" y1="509.0" y2="509.0" stroke="#555" stroke-width="1.5"/>
<text x="193" y="397" font-size="11" fill="#333" text-anchor="middle" textLength="21" lengthAdjust="spacingAndGlyphs">44,3</text>
<text x="299" y="400.5" font-size="15.5" font-weight="bold" fill="#111" textLength="31" lengthAdjust="spacingAndGlyphs">41,9</text>
<text x="302" y="480.5" font-size="15.5" font-weight="bold" fill="#111" textLength="25" lengthAdjust="spacingAndGlyphs">8,9</text>
<text x="317.5" y="502.8" font-size="15.5" font-weight="bold" fill="#111" textLength="23.5" lengthAdjust="spacingAndGlyphs">3,4</text>
<text x="35" y="521.5" font-size="12" fill="#111" text-anchor="middle" textLength="18" lengthAdjust="spacingAndGlyphs">Mai</text>
<text x="74.7" y="521.5" font-size="12" fill="#9a9a9a" text-anchor="middle" textLength="22.5" lengthAdjust="spacingAndGlyphs">Déc.</text>
<text x="114.2" y="521.5" font-size="12" fill="#9a9a9a" text-anchor="middle" textLength="33.5" lengthAdjust="spacingAndGlyphs">Janvier</text>
<text x="154.2" y="521.5" font-size="12" fill="#9a9a9a" text-anchor="middle" textLength="33.5" lengthAdjust="spacingAndGlyphs">Février</text>
<text x="194.2" y="521.5" font-size="12" fill="#9a9a9a" text-anchor="middle" textLength="23.5" lengthAdjust="spacingAndGlyphs">Mars</text>
<text x="233.7" y="521.5" font-size="12" fill="#9a9a9a" text-anchor="middle" textLength="22.5" lengthAdjust="spacingAndGlyphs">Avril</text>
<text x="273.7" y="521.5" font-size="12" fill="#9a9a9a" text-anchor="middle" textLength="17.5" lengthAdjust="spacingAndGlyphs">Mai</text>
<text x="308.2" y="521.5" font-size="12" fill="#111" text-anchor="middle" textLength="18.5" lengthAdjust="spacingAndGlyphs">Juin</text>
<text x="34.5" y="534.5" font-size="12" fill="#111" text-anchor="middle" textLength="25" lengthAdjust="spacingAndGlyphs">2021</text>
<text x="114" y="534.5" font-size="12" fill="#9a9a9a" text-anchor="middle" textLength="27" lengthAdjust="spacingAndGlyphs">2022</text>
<text x="295" y="534.5" font-size="12" fill="#111" textLength="37.5" lengthAdjust="spacingAndGlyphs">2022**</text>
<text x="7" y="573" font-size="11.5" fill="#222" textLength="98" lengthAdjust="spacingAndGlyphs">* Chiffres mai 2022</text>
<text x="7" y="585.5" font-size="11.5" fill="#222" textLength="72" lengthAdjust="spacingAndGlyphs">** estimations</text>
<text x="362" y="78.5" font-size="11" font-weight="bold" fill="#111" textLength="286" lengthAdjust="spacingAndGlyphs">Indice des prix à la consommation harmonisé (IPCH),</text>
<text x="362" y="93" font-size="11.5" fill="#222" textLength="89" lengthAdjust="spacingAndGlyphs">juin 2022**, en %</text>
<rect x="361" y="105" width="13.2" height="13" fill="#fdedc4"/><text x="379.5" y="116.3" font-size="12" fill="#222" textLength="63.5" lengthAdjust="spacingAndGlyphs">De 2,7 à 7,5</text>
<rect x="361" y="125" width="13.2" height="13" fill="#fbdc94"/><text x="379.5" y="136.3" font-size="12" fill="#222" textLength="65" lengthAdjust="spacingAndGlyphs">De 7,5 à 8,5</text>
<rect x="361" y="145" width="13.2" height="13" fill="#f8b94a"/><text x="379.5" y="156.3" font-size="12" fill="#222" textLength="61" lengthAdjust="spacingAndGlyphs">De 8,5 à 91</text>
<rect x="361" y="165" width="13.2" height="13" fill="#f09416"/><text x="379.5" y="176.3" font-size="12" fill="#222" textLength="62" lengthAdjust="spacingAndGlyphs">De 9 à 10,5</text>
<rect x="361" y="185" width="13.2" height="13" fill="#e86f13"/><text x="379.5" y="196.3" font-size="12" fill="#222" textLength="66" lengthAdjust="spacingAndGlyphs">De 10,5 à 13</text>
<rect x="361" y="205" width="13.2" height="13" fill="#e21f1c"/><text x="379.5" y="216.3" font-size="12" fill="#222" textLength="55" lengthAdjust="spacingAndGlyphs">Plus de 13</text>
<rect x="361" y="225" width="13.2" height="13" fill="#c4c4c4"/><text x="379.5" y="236.3" font-size="12" fill="#222" textLength="82" lengthAdjust="spacingAndGlyphs">Non disponible</text>
<rect x="360.6" y="257.4" width="12.6" height="12.4" fill="#fdeabb"/>
<rect x="559" y="532" width="12.6" height="11.6" fill="#fdeabb"/>
<rect x="682.4" y="531" width="13.6" height="13" fill="#f8b94a"/>
<path d="M561.5 532.8l1.2 .6l.8 1.3l-1 .2z" fill="#222"/>
<path d="M631.4 468 H619.6 V516" fill="none" stroke="#333" stroke-width="0.6"/>
<path d="M486.6 322.5 V360" fill="none" stroke="#555" stroke-width="0.7"/>
<path d="M552 420.4 H563 M551 422.4 H562" fill="none" stroke="#444" stroke-width="0.6"/>
<text x="593.5" y="223.1" font-size="10.8" fill="#444444" textLength="40.5" lengthAdjust="spacingAndGlyphs" stroke="#fff" stroke-opacity="0.55" stroke-width="1.8" paint-order="stroke" stroke-linejoin="round">Finlande</text>
<text x="607" y="236.5" font-size="10.8" font-weight="bold" fill="#111" textLength="14" lengthAdjust="spacingAndGlyphs" stroke="#fff" stroke-opacity="0.55" stroke-width="1.8" paint-order="stroke" stroke-linejoin="round">8,1</text>
<text x="500" y="243.1" font-size="10.8" fill="#444444" textLength="38.5" lengthAdjust="spacingAndGlyphs" stroke="#fff" stroke-opacity="0.55" stroke-width="1.8" paint-order="stroke" stroke-linejoin="round">Norvège</text>
<text x="509" y="256.5" font-size="10.8" font-weight="bold" fill="#111" textLength="20" lengthAdjust="spacingAndGlyphs" stroke="#fff" stroke-opacity="0.55" stroke-width="1.8" paint-order="stroke" stroke-linejoin="round">6,2*</text>
<text x="542.5" y="270.6" font-size="10.8" fill="#444444" textLength="27.5" lengthAdjust="spacingAndGlyphs" stroke="#fff" stroke-opacity="0.55" stroke-width="1.8" paint-order="stroke" stroke-linejoin="round">Suède</text>
<text x="546.5" y="284.0" font-size="10.8" font-weight="bold" fill="#111" textLength="20.0" lengthAdjust="spacingAndGlyphs" stroke="#fff" stroke-opacity="0.55" stroke-width="1.8" paint-order="stroke" stroke-linejoin="round">7,5*</text>
<text x="492" y="298.90000000000003" font-size="10.8" fill="#444444" textLength="47" lengthAdjust="spacingAndGlyphs" stroke="#fff" stroke-opacity="0.55" stroke-width="1.8" paint-order="stroke" stroke-linejoin="round">Danemark</text>
<text x="505" y="312.1" font-size="10.8" font-weight="bold" fill="#111" textLength="20" lengthAdjust="spacingAndGlyphs" stroke="#fff" stroke-opacity="0.55" stroke-width="1.8" paint-order="stroke" stroke-linejoin="round">8,2*</text>
<text x="459.5" y="317.6" font-size="10.8" fill="#444444" textLength="39.5" lengthAdjust="spacingAndGlyphs" stroke="#fff" stroke-opacity="0.55" stroke-width="1.8" paint-order="stroke" stroke-linejoin="round">Belgique</text>
<text x="478" y="333.6" font-size="10.8" fill="#444444" textLength="42" lengthAdjust="spacingAndGlyphs" stroke="#fff" stroke-opacity="0.55" stroke-width="1.8" paint-order="stroke" stroke-linejoin="round">Pays-Bas</text>
<text x="491.6" y="347.5" font-size="10.8" font-weight="bold" fill="#111" textLength="14.8" lengthAdjust="spacingAndGlyphs" stroke="#fff" stroke-opacity="0.55" stroke-width="1.8" paint-order="stroke" stroke-linejoin="round">9,9</text>
<text x="507.6" y="359.6" font-size="10.8" fill="#444444" textLength="48.4" lengthAdjust="spacingAndGlyphs" stroke="#fff" stroke-opacity="0.55" stroke-width="1.8" paint-order="stroke" stroke-linejoin="round">Allemagne</text>
<text x="524.4" y="373.5" font-size="10.8" font-weight="bold" fill="#111" textLength="15.6" lengthAdjust="spacingAndGlyphs" stroke="#fff" stroke-opacity="0.55" stroke-width="1.8" paint-order="stroke" stroke-linejoin="round">8,2</text>
<text x="478" y="370.7" font-size="10.8" font-weight="bold" fill="#111" textLength="19.5" lengthAdjust="spacingAndGlyphs" stroke="#fff" stroke-opacity="0.55" stroke-width="1.8" paint-order="stroke" stroke-linejoin="round">10,5</text>
<text x="551" y="373.6" font-size="10.8" fill="#444444" textLength="41" lengthAdjust="spacingAndGlyphs" stroke="#fff" stroke-opacity="0.55" stroke-width="1.8" paint-order="stroke" stroke-linejoin="round">Tchéquie</text>
<text x="558" y="387.5" font-size="10.8" font-weight="bold" fill="#111" textLength="24" lengthAdjust="spacingAndGlyphs" stroke="#fff" stroke-opacity="0.55" stroke-width="1.8" paint-order="stroke" stroke-linejoin="round">15,2*</text>
<text x="569" y="340.6" font-size="10.8" fill="#444444" textLength="38" lengthAdjust="spacingAndGlyphs" stroke="#fff" stroke-opacity="0.55" stroke-width="1.8" paint-order="stroke" stroke-linejoin="round">Pologne</text>
<text x="576" y="354.8" font-size="10.8" font-weight="bold" fill="#111" textLength="22.5" lengthAdjust="spacingAndGlyphs" stroke="#fff" stroke-opacity="0.55" stroke-width="1.8" paint-order="stroke" stroke-linejoin="round">12,8*</text>
<text x="580" y="405.6" font-size="10.8" fill="#444444" textLength="37" lengthAdjust="spacingAndGlyphs" stroke="#fff" stroke-opacity="0.55" stroke-width="1.8" paint-order="stroke" stroke-linejoin="round">Hongrie</text>
<text x="586" y="419.5" font-size="10.8" font-weight="bold" fill="#111" textLength="24" lengthAdjust="spacingAndGlyphs" stroke="#fff" stroke-opacity="0.55" stroke-width="1.8" paint-order="stroke" stroke-linejoin="round">10,8*</text>
<text x="622" y="412.20000000000005" font-size="10.8" fill="#444444" textLength="47" lengthAdjust="spacingAndGlyphs" stroke="#fff" stroke-opacity="0.55" stroke-width="1.8" paint-order="stroke" stroke-linejoin="round">Roumanie</text>
<text x="634" y="426.1" font-size="10.8" font-weight="bold" fill="#111" textLength="23" lengthAdjust="spacingAndGlyphs" stroke="#fff" stroke-opacity="0.55" stroke-width="1.8" paint-order="stroke" stroke-linejoin="round">12,4*</text>
<text x="639" y="445.6" font-size="10.8" fill="#444444" textLength="38" lengthAdjust="spacingAndGlyphs" stroke="#fff" stroke-opacity="0.55" stroke-width="1.8" paint-order="stroke" stroke-linejoin="round">Bulgarie</text>
<text x="646" y="459.0" font-size="10.8" font-weight="bold" fill="#111" textLength="23.6" lengthAdjust="spacingAndGlyphs" stroke="#fff" stroke-opacity="0.55" stroke-width="1.8" paint-order="stroke" stroke-linejoin="round">13,4*</text>
<text x="597" y="440.6" font-size="10.8" fill="#444444" textLength="29" lengthAdjust="spacingAndGlyphs" stroke="#fff" stroke-opacity="0.55" stroke-width="1.8" paint-order="stroke" stroke-linejoin="round">Serbie</text>
<text x="601" y="454.5" font-size="10.8" font-weight="bold" fill="#111" textLength="22" lengthAdjust="spacingAndGlyphs" stroke="#fff" stroke-opacity="0.55" stroke-width="1.8" paint-order="stroke" stroke-linejoin="round">10,1*</text>
<text x="537" y="401.6" font-size="10.8" fill="#444444" textLength="38" lengthAdjust="spacingAndGlyphs" stroke="#fff" stroke-opacity="0.55" stroke-width="1.8" paint-order="stroke" stroke-linejoin="round">Autriche</text>
<text x="549" y="414.9" font-size="10.8" font-weight="bold" fill="#111" textLength="14" lengthAdjust="spacingAndGlyphs" stroke="#fff" stroke-opacity="0.55" stroke-width="1.8" paint-order="stroke" stroke-linejoin="round">8,7</text>
<text x="510" y="424.20000000000005" font-size="10.8" fill="#444444" textLength="38" lengthAdjust="spacingAndGlyphs" stroke="#fff" stroke-opacity="0.55" stroke-width="1.8" paint-order="stroke" stroke-linejoin="round">Slovénie</text>
<text x="519.6" y="437.5" font-size="10.8" font-weight="bold" fill="#111" textLength="19.4" lengthAdjust="spacingAndGlyphs" stroke="#fff" stroke-opacity="0.55" stroke-width="1.8" paint-order="stroke" stroke-linejoin="round">10,8</text>
<text x="553" y="435.6" font-size="10.8" fill="#444444" textLength="34" lengthAdjust="spacingAndGlyphs" stroke="#fff" stroke-opacity="0.55" stroke-width="1.8" paint-order="stroke" stroke-linejoin="round">Croatie</text>
<text x="558" y="448.9" font-size="10.8" font-weight="bold" fill="#111" textLength="23" lengthAdjust="spacingAndGlyphs" stroke="#fff" stroke-opacity="0.55" stroke-width="1.8" paint-order="stroke" stroke-linejoin="round">10,7*</text>
<text x="536.4" y="459.6" font-size="10.8" fill="#444444" textLength="21.6" lengthAdjust="spacingAndGlyphs" stroke="#fff" stroke-opacity="0.55" stroke-width="1.8" paint-order="stroke" stroke-linejoin="round">Italie</text>
<text x="540" y="473.5" font-size="10.8" font-weight="bold" fill="#111" textLength="15" lengthAdjust="spacingAndGlyphs" stroke="#fff" stroke-opacity="0.55" stroke-width="1.8" paint-order="stroke" stroke-linejoin="round">8,5</text>
<text x="479.6" y="411.6" font-size="10.8" fill="#444444" textLength="29.4" lengthAdjust="spacingAndGlyphs" stroke="#fff" stroke-opacity="0.55" stroke-width="1.8" paint-order="stroke" stroke-linejoin="round">Suisse</text>
<text x="485" y="424.5" font-size="10.8" font-weight="bold" fill="#111" textLength="19" lengthAdjust="spacingAndGlyphs" stroke="#fff" stroke-opacity="0.55" stroke-width="1.8" paint-order="stroke" stroke-linejoin="round">2,7*</text>
<text x="445.6" y="400.20000000000005" font-size="10.8" fill="#444444" textLength="30.8" lengthAdjust="spacingAndGlyphs" stroke="#fff" stroke-opacity="0.55" stroke-width="1.8" paint-order="stroke" stroke-linejoin="round">France</text>
<text x="453" y="413.5" font-size="10.8" font-weight="bold" fill="#111" textLength="16" lengthAdjust="spacingAndGlyphs" stroke="#fff" stroke-opacity="0.55" stroke-width="1.8" paint-order="stroke" stroke-linejoin="round">6,5</text>
<text x="385.6" y="328.20000000000005" font-size="10.8" fill="#444444" textLength="32.4" lengthAdjust="spacingAndGlyphs" stroke="#fff" stroke-opacity="0.55" stroke-width="1.8" paint-order="stroke" stroke-linejoin="round">Irlande</text>
<text x="393" y="341.5" font-size="10.8" font-weight="bold" fill="#111" textLength="15" lengthAdjust="spacingAndGlyphs" stroke="#fff" stroke-opacity="0.55" stroke-width="1.8" paint-order="stroke" stroke-linejoin="round">9,6</text>
<text x="362.4" y="466.20000000000005" font-size="10.8" fill="#444444" textLength="39.2" lengthAdjust="spacingAndGlyphs" stroke="#fff" stroke-opacity="0.55" stroke-width="1.8" paint-order="stroke" stroke-linejoin="round">Portugal</text>
<text x="362.4" y="479.5" font-size="10.8" font-weight="bold" fill="#111" textLength="6.0" lengthAdjust="spacingAndGlyphs" stroke="#fff" stroke-opacity="0.55" stroke-width="1.8" paint-order="stroke" stroke-linejoin="round">9</text>
<text x="391" y="485.6" font-size="10.8" fill="#444444" textLength="41" lengthAdjust="spacingAndGlyphs" stroke="#fff" stroke-opacity="0.55" stroke-width="1.8" paint-order="stroke" stroke-linejoin="round">Espagne</text>
<text x="406" y="498.5" font-size="10.8" font-weight="bold" fill="#111" textLength="10.5" lengthAdjust="spacingAndGlyphs" stroke="#fff" stroke-opacity="0.55" stroke-width="1.8" paint-order="stroke" stroke-linejoin="round">10</text>
<text x="626" y="491.6" font-size="10.8" fill="#444444" textLength="27.6" lengthAdjust="spacingAndGlyphs" stroke="#fff" stroke-opacity="0.55" stroke-width="1.8" paint-order="stroke" stroke-linejoin="round">Grèce</text>
<text x="635.6" y="504.5" font-size="10.8" font-weight="bold" fill="#111" textLength="9.9" lengthAdjust="spacingAndGlyphs" stroke="#fff" stroke-opacity="0.55" stroke-width="1.8" paint-order="stroke" stroke-linejoin="round">12</text>
<text x="585" y="526.6" font-size="10.8" fill="#444444" textLength="51.4" lengthAdjust="spacingAndGlyphs" stroke="#fff" stroke-opacity="0.55" stroke-width="1.8" paint-order="stroke" stroke-linejoin="round">Macédoine</text>
<text x="593" y="540.6" font-size="10.8" fill="#444444" textLength="37.4" lengthAdjust="spacingAndGlyphs" stroke="#fff" stroke-opacity="0.55" stroke-width="1.8" paint-order="stroke" stroke-linejoin="round">du Nord</text>
<text x="601" y="554.5" font-size="10.8" font-weight="bold" fill="#111" textLength="21.4" lengthAdjust="spacingAndGlyphs" stroke="#fff" stroke-opacity="0.55" stroke-width="1.8" paint-order="stroke" stroke-linejoin="round">11,9*</text>
<text x="661.6" y="552.6" font-size="10.8" fill="#444444" textLength="33.4" lengthAdjust="spacingAndGlyphs" stroke="#fff" stroke-opacity="0.55" stroke-width="1.8" paint-order="stroke" stroke-linejoin="round">Chypre</text>
<text x="682" y="567.5" font-size="10.8" font-weight="bold" fill="#111" textLength="14.5" lengthAdjust="spacingAndGlyphs" stroke="#fff" stroke-opacity="0.55" stroke-width="1.8" paint-order="stroke" stroke-linejoin="round">9,1</text>
<text x="551.6" y="554.6" font-size="10.8" fill="#444444" textLength="26.0" lengthAdjust="spacingAndGlyphs" stroke="#fff" stroke-opacity="0.55" stroke-width="1.8" paint-order="stroke" stroke-linejoin="round">Malte</text>
<text x="558" y="568.5" font-size="10.8" font-weight="bold" fill="#111" textLength="14" lengthAdjust="spacingAndGlyphs" stroke="#fff" stroke-opacity="0.55" stroke-width="1.8" paint-order="stroke" stroke-linejoin="round">6,1</text>
<text x="359.4" y="279.6" font-size="10.8" fill="#444444" textLength="32.6" lengthAdjust="spacingAndGlyphs" stroke="#fff" stroke-opacity="0.55" stroke-width="1.8" paint-order="stroke" stroke-linejoin="round">Islande</text>
<text x="359.4" y="293.0" font-size="10.8" font-weight="bold" fill="#111" textLength="18.6" lengthAdjust="spacingAndGlyphs" stroke="#fff" stroke-opacity="0.55" stroke-width="1.8" paint-order="stroke" stroke-linejoin="round">5,4*</text>
<text x="622" y="270" font-size="10.8" fill="#444444" stroke="#fff" stroke-opacity="0.55" stroke-width="1.8" paint-order="stroke" stroke-linejoin="round"><tspan textLength="34" lengthAdjust="spacingAndGlyphs">Estonie</tspan> <tspan font-weight="bold" fill="#111">22</tspan></text>
<text x="624" y="291.3" font-size="10.8" fill="#444444" stroke="#fff" stroke-opacity="0.55" stroke-width="1.8" paint-order="stroke" stroke-linejoin="round"><tspan textLength="37" lengthAdjust="spacingAndGlyphs">Lettonie</tspan> <tspan font-weight="bold" fill="#111">19</tspan></text>
<text x="618" y="311.6" font-size="10.8" fill="#444444" stroke="#fff" stroke-opacity="0.55" stroke-width="1.8" paint-order="stroke" stroke-linejoin="round"><tspan textLength="36.5" lengthAdjust="spacingAndGlyphs">Lituanie</tspan> <tspan font-weight="bold" fill="#111">20,5</tspan></text>
<text x="590" y="387" font-size="10.8" fill="#444444" stroke="#fff" stroke-opacity="0.55" stroke-width="1.8" paint-order="stroke" stroke-linejoin="round"><tspan textLength="43" lengthAdjust="spacingAndGlyphs">Slovaquie</tspan> <tspan font-weight="bold" fill="#111">12,5</tspan></text>
<text x="471" y="384.4" font-size="10.8" fill="#444444" stroke="#fff" stroke-opacity="0.55" stroke-width="1.8" paint-order="stroke" stroke-linejoin="round"><tspan textLength="18" lengthAdjust="spacingAndGlyphs">Lux.</tspan> <tspan font-weight="bold" fill="#111">10,3</tspan></text>
<text x="362.4" y="581" font-size="12" fill="#6a6a6a" textLength="91" lengthAdjust="spacingAndGlyphs">Source : Eurostat</text>
<text x="362.4" y="597" font-size="12" fill="#6a6a6a" textLength="121" lengthAdjust="spacingAndGlyphs">Infographie : <tspan font-style="italic">Le Monde</tspan></text>
</svg></body></html>
